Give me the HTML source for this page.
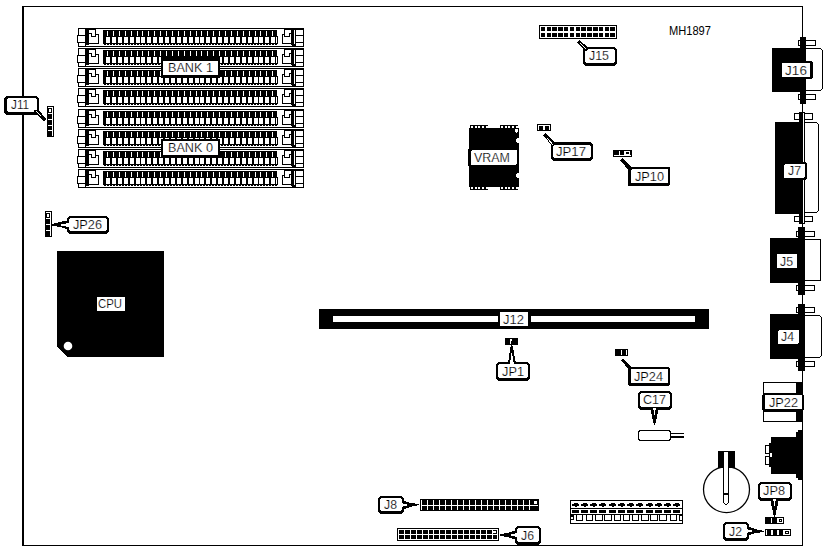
<!DOCTYPE html>
<html><head><meta charset="utf-8"><title>MH1897</title>
<style>
html,body{margin:0;padding:0;background:#fff;}
svg{display:block;}
text{font-family:"Liberation Sans",sans-serif;stroke:#fff;stroke-width:.2px;paint-order:fill stroke;}
</style></head>
<body>
<svg width="826" height="551" viewBox="0 0 826 551" shape-rendering="crispEdges">
<rect x="0" y="0" width="826" height="551" fill="#fff"/>
<rect x="22" y="6" width="2" height="540" fill="#000"/><rect x="22" y="6" width="781" height="1" fill="#000"/><rect x="22" y="545" width="781" height="1" fill="#000"/><rect x="802" y="6" width="1" height="540" fill="#000"/><rect x="78" y="28" width="226" height="19" fill="#000"/><rect x="79" y="29" width="224" height="17" fill="#fff"/><rect x="78" y="35" width="8" height="1" fill="#000"/><rect x="78" y="42" width="8" height="1" fill="#000"/><rect x="77" y="35" width="1" height="8" fill="#000"/><rect x="78" y="36" width="1" height="6" fill="#fff"/><rect x="85" y="28" width="4" height="17" fill="#000"/><rect x="85" y="28" width="1" height="19" fill="#000"/><rect x="86" y="44" width="3" height="1" fill="#000"/><rect x="85" y="29" width="11" height="1" fill="#000"/><rect x="95" y="29" width="1" height="8" fill="#000"/><rect x="95" y="34" width="4" height="1" fill="#000"/><rect x="98" y="34" width="1" height="10" fill="#000"/><rect x="89" y="43" width="10" height="1" fill="#000"/><rect x="89" y="33" width="3" height="1" fill="#000"/><rect x="91" y="33" width="1" height="4" fill="#000"/><rect x="91" y="36" width="5" height="1" fill="#000"/><rect x="103" y="30" width="174" height="14" fill="#000"/><rect x="277" y="36" width="1" height="8" fill="#000"/><rect x="104" y="44" width="2" height="1" fill="#000"/><rect x="107" y="44" width="2" height="1" fill="#000"/><rect x="110" y="44" width="2" height="1" fill="#000"/><rect x="113" y="44" width="2" height="1" fill="#000"/><rect x="116" y="44" width="2" height="1" fill="#000"/><rect x="119" y="44" width="2" height="1" fill="#000"/><rect x="122" y="44" width="2" height="1" fill="#000"/><rect x="125" y="44" width="2" height="1" fill="#000"/><rect x="128" y="44" width="2" height="1" fill="#000"/><rect x="131" y="44" width="2" height="1" fill="#000"/><rect x="134" y="44" width="2" height="1" fill="#000"/><rect x="137" y="44" width="2" height="1" fill="#000"/><rect x="140" y="44" width="2" height="1" fill="#000"/><rect x="143" y="44" width="2" height="1" fill="#000"/><rect x="146" y="44" width="2" height="1" fill="#000"/><rect x="149" y="44" width="2" height="1" fill="#000"/><rect x="152" y="44" width="2" height="1" fill="#000"/><rect x="155" y="44" width="2" height="1" fill="#000"/><rect x="158" y="44" width="2" height="1" fill="#000"/><rect x="161" y="44" width="2" height="1" fill="#000"/><rect x="164" y="44" width="2" height="1" fill="#000"/><rect x="167" y="44" width="2" height="1" fill="#000"/><rect x="170" y="44" width="2" height="1" fill="#000"/><rect x="173" y="44" width="2" height="1" fill="#000"/><rect x="176" y="44" width="2" height="1" fill="#000"/><rect x="179" y="44" width="2" height="1" fill="#000"/><rect x="182" y="44" width="2" height="1" fill="#000"/><rect x="185" y="44" width="2" height="1" fill="#000"/><rect x="188" y="44" width="2" height="1" fill="#000"/><rect x="191" y="44" width="2" height="1" fill="#000"/><rect x="194" y="44" width="2" height="1" fill="#000"/><rect x="197" y="44" width="2" height="1" fill="#000"/><rect x="200" y="44" width="2" height="1" fill="#000"/><rect x="203" y="44" width="2" height="1" fill="#000"/><rect x="206" y="44" width="2" height="1" fill="#000"/><rect x="209" y="44" width="2" height="1" fill="#000"/><rect x="212" y="44" width="2" height="1" fill="#000"/><rect x="215" y="44" width="2" height="1" fill="#000"/><rect x="218" y="44" width="2" height="1" fill="#000"/><rect x="221" y="44" width="2" height="1" fill="#000"/><rect x="224" y="44" width="2" height="1" fill="#000"/><rect x="227" y="44" width="2" height="1" fill="#000"/><rect x="230" y="44" width="2" height="1" fill="#000"/><rect x="233" y="44" width="2" height="1" fill="#000"/><rect x="236" y="44" width="2" height="1" fill="#000"/><rect x="239" y="44" width="2" height="1" fill="#000"/><rect x="242" y="44" width="2" height="1" fill="#000"/><rect x="245" y="44" width="2" height="1" fill="#000"/><rect x="248" y="44" width="2" height="1" fill="#000"/><rect x="251" y="44" width="2" height="1" fill="#000"/><rect x="254" y="44" width="2" height="1" fill="#000"/><rect x="257" y="44" width="2" height="1" fill="#000"/><rect x="260" y="44" width="2" height="1" fill="#000"/><rect x="263" y="44" width="2" height="1" fill="#000"/><rect x="266" y="44" width="2" height="1" fill="#000"/><rect x="269" y="44" width="2" height="1" fill="#000"/><rect x="272" y="44" width="2" height="1" fill="#000"/><rect x="275" y="44" width="2" height="1" fill="#000"/><rect x="106" y="37" width="4" height="6" fill="#fff"/><rect x="107" y="31" width="1" height="5" fill="#fff"/><rect x="112" y="37" width="4" height="6" fill="#fff"/><rect x="113" y="31" width="1" height="5" fill="#fff"/><rect x="118" y="37" width="4" height="6" fill="#fff"/><rect x="119" y="31" width="1" height="5" fill="#fff"/><rect x="124" y="37" width="4" height="6" fill="#fff"/><rect x="125" y="31" width="1" height="5" fill="#fff"/><rect x="130" y="37" width="4" height="6" fill="#fff"/><rect x="131" y="31" width="1" height="5" fill="#fff"/><rect x="136" y="37" width="4" height="6" fill="#fff"/><rect x="137" y="31" width="1" height="5" fill="#fff"/><rect x="141" y="37" width="4" height="6" fill="#fff"/><rect x="142" y="31" width="1" height="5" fill="#fff"/><rect x="147" y="37" width="4" height="6" fill="#fff"/><rect x="148" y="31" width="1" height="5" fill="#fff"/><rect x="153" y="37" width="4" height="6" fill="#fff"/><rect x="154" y="31" width="1" height="5" fill="#fff"/><rect x="159" y="37" width="4" height="6" fill="#fff"/><rect x="160" y="31" width="1" height="5" fill="#fff"/><rect x="165" y="37" width="4" height="6" fill="#fff"/><rect x="166" y="31" width="1" height="5" fill="#fff"/><rect x="171" y="37" width="4" height="6" fill="#fff"/><rect x="172" y="31" width="1" height="5" fill="#fff"/><rect x="177" y="37" width="4" height="6" fill="#fff"/><rect x="178" y="31" width="1" height="5" fill="#fff"/><rect x="183" y="37" width="4" height="6" fill="#fff"/><rect x="184" y="31" width="1" height="5" fill="#fff"/><rect x="189" y="37" width="4" height="6" fill="#fff"/><rect x="190" y="31" width="1" height="5" fill="#fff"/><rect x="195" y="37" width="4" height="6" fill="#fff"/><rect x="196" y="31" width="1" height="5" fill="#fff"/><rect x="200" y="37" width="4" height="6" fill="#fff"/><rect x="201" y="31" width="1" height="5" fill="#fff"/><rect x="206" y="37" width="4" height="6" fill="#fff"/><rect x="207" y="31" width="1" height="5" fill="#fff"/><rect x="212" y="37" width="4" height="6" fill="#fff"/><rect x="213" y="31" width="1" height="5" fill="#fff"/><rect x="218" y="37" width="4" height="6" fill="#fff"/><rect x="219" y="31" width="1" height="5" fill="#fff"/><rect x="224" y="37" width="4" height="6" fill="#fff"/><rect x="225" y="31" width="1" height="5" fill="#fff"/><rect x="230" y="37" width="4" height="6" fill="#fff"/><rect x="231" y="31" width="1" height="5" fill="#fff"/><rect x="236" y="37" width="4" height="6" fill="#fff"/><rect x="237" y="31" width="1" height="5" fill="#fff"/><rect x="242" y="37" width="4" height="6" fill="#fff"/><rect x="243" y="31" width="1" height="5" fill="#fff"/><rect x="248" y="37" width="4" height="6" fill="#fff"/><rect x="249" y="31" width="1" height="5" fill="#fff"/><rect x="254" y="37" width="4" height="6" fill="#fff"/><rect x="255" y="31" width="1" height="5" fill="#fff"/><rect x="259" y="37" width="4" height="6" fill="#fff"/><rect x="260" y="31" width="1" height="5" fill="#fff"/><rect x="265" y="37" width="4" height="6" fill="#fff"/><rect x="266" y="31" width="1" height="5" fill="#fff"/><rect x="271" y="37" width="4" height="6" fill="#fff"/><rect x="272" y="31" width="1" height="5" fill="#fff"/><rect x="276" y="37" width="1" height="6" fill="#fff"/><rect x="284" y="29" width="20" height="1" fill="#000"/><rect x="284" y="29" width="1" height="8" fill="#000"/><rect x="282" y="34" width="3" height="1" fill="#000"/><rect x="282" y="34" width="1" height="10" fill="#000"/><rect x="282" y="43" width="10" height="1" fill="#000"/><rect x="284" y="36" width="6" height="1" fill="#000"/><rect x="289" y="33" width="1" height="4" fill="#000"/><rect x="289" y="33" width="4" height="1" fill="#000"/><rect x="291" y="30" width="3" height="15" fill="#000"/><rect x="292" y="44" width="3" height="2" fill="#000"/><rect x="295" y="28" width="1" height="19" fill="#000"/><rect x="295" y="35" width="9" height="1" fill="#000"/><rect x="295" y="42" width="9" height="1" fill="#000"/><rect x="78" y="48" width="226" height="19" fill="#000"/><rect x="79" y="49" width="224" height="17" fill="#fff"/><rect x="78" y="55" width="8" height="1" fill="#000"/><rect x="78" y="62" width="8" height="1" fill="#000"/><rect x="77" y="55" width="1" height="8" fill="#000"/><rect x="78" y="56" width="1" height="6" fill="#fff"/><rect x="85" y="48" width="4" height="17" fill="#000"/><rect x="85" y="48" width="1" height="19" fill="#000"/><rect x="86" y="64" width="3" height="1" fill="#000"/><rect x="85" y="49" width="11" height="1" fill="#000"/><rect x="95" y="49" width="1" height="8" fill="#000"/><rect x="95" y="54" width="4" height="1" fill="#000"/><rect x="98" y="54" width="1" height="10" fill="#000"/><rect x="89" y="63" width="10" height="1" fill="#000"/><rect x="89" y="53" width="3" height="1" fill="#000"/><rect x="91" y="53" width="1" height="4" fill="#000"/><rect x="91" y="56" width="5" height="1" fill="#000"/><rect x="103" y="50" width="174" height="14" fill="#000"/><rect x="277" y="56" width="1" height="8" fill="#000"/><rect x="104" y="64" width="2" height="1" fill="#000"/><rect x="107" y="64" width="2" height="1" fill="#000"/><rect x="110" y="64" width="2" height="1" fill="#000"/><rect x="113" y="64" width="2" height="1" fill="#000"/><rect x="116" y="64" width="2" height="1" fill="#000"/><rect x="119" y="64" width="2" height="1" fill="#000"/><rect x="122" y="64" width="2" height="1" fill="#000"/><rect x="125" y="64" width="2" height="1" fill="#000"/><rect x="128" y="64" width="2" height="1" fill="#000"/><rect x="131" y="64" width="2" height="1" fill="#000"/><rect x="134" y="64" width="2" height="1" fill="#000"/><rect x="137" y="64" width="2" height="1" fill="#000"/><rect x="140" y="64" width="2" height="1" fill="#000"/><rect x="143" y="64" width="2" height="1" fill="#000"/><rect x="146" y="64" width="2" height="1" fill="#000"/><rect x="149" y="64" width="2" height="1" fill="#000"/><rect x="152" y="64" width="2" height="1" fill="#000"/><rect x="155" y="64" width="2" height="1" fill="#000"/><rect x="158" y="64" width="2" height="1" fill="#000"/><rect x="161" y="64" width="2" height="1" fill="#000"/><rect x="164" y="64" width="2" height="1" fill="#000"/><rect x="167" y="64" width="2" height="1" fill="#000"/><rect x="170" y="64" width="2" height="1" fill="#000"/><rect x="173" y="64" width="2" height="1" fill="#000"/><rect x="176" y="64" width="2" height="1" fill="#000"/><rect x="179" y="64" width="2" height="1" fill="#000"/><rect x="182" y="64" width="2" height="1" fill="#000"/><rect x="185" y="64" width="2" height="1" fill="#000"/><rect x="188" y="64" width="2" height="1" fill="#000"/><rect x="191" y="64" width="2" height="1" fill="#000"/><rect x="194" y="64" width="2" height="1" fill="#000"/><rect x="197" y="64" width="2" height="1" fill="#000"/><rect x="200" y="64" width="2" height="1" fill="#000"/><rect x="203" y="64" width="2" height="1" fill="#000"/><rect x="206" y="64" width="2" height="1" fill="#000"/><rect x="209" y="64" width="2" height="1" fill="#000"/><rect x="212" y="64" width="2" height="1" fill="#000"/><rect x="215" y="64" width="2" height="1" fill="#000"/><rect x="218" y="64" width="2" height="1" fill="#000"/><rect x="221" y="64" width="2" height="1" fill="#000"/><rect x="224" y="64" width="2" height="1" fill="#000"/><rect x="227" y="64" width="2" height="1" fill="#000"/><rect x="230" y="64" width="2" height="1" fill="#000"/><rect x="233" y="64" width="2" height="1" fill="#000"/><rect x="236" y="64" width="2" height="1" fill="#000"/><rect x="239" y="64" width="2" height="1" fill="#000"/><rect x="242" y="64" width="2" height="1" fill="#000"/><rect x="245" y="64" width="2" height="1" fill="#000"/><rect x="248" y="64" width="2" height="1" fill="#000"/><rect x="251" y="64" width="2" height="1" fill="#000"/><rect x="254" y="64" width="2" height="1" fill="#000"/><rect x="257" y="64" width="2" height="1" fill="#000"/><rect x="260" y="64" width="2" height="1" fill="#000"/><rect x="263" y="64" width="2" height="1" fill="#000"/><rect x="266" y="64" width="2" height="1" fill="#000"/><rect x="269" y="64" width="2" height="1" fill="#000"/><rect x="272" y="64" width="2" height="1" fill="#000"/><rect x="275" y="64" width="2" height="1" fill="#000"/><rect x="106" y="57" width="4" height="6" fill="#fff"/><rect x="107" y="51" width="1" height="5" fill="#fff"/><rect x="112" y="57" width="4" height="6" fill="#fff"/><rect x="113" y="51" width="1" height="5" fill="#fff"/><rect x="118" y="57" width="4" height="6" fill="#fff"/><rect x="119" y="51" width="1" height="5" fill="#fff"/><rect x="124" y="57" width="4" height="6" fill="#fff"/><rect x="125" y="51" width="1" height="5" fill="#fff"/><rect x="130" y="57" width="4" height="6" fill="#fff"/><rect x="131" y="51" width="1" height="5" fill="#fff"/><rect x="136" y="57" width="4" height="6" fill="#fff"/><rect x="137" y="51" width="1" height="5" fill="#fff"/><rect x="141" y="57" width="4" height="6" fill="#fff"/><rect x="142" y="51" width="1" height="5" fill="#fff"/><rect x="147" y="57" width="4" height="6" fill="#fff"/><rect x="148" y="51" width="1" height="5" fill="#fff"/><rect x="153" y="57" width="4" height="6" fill="#fff"/><rect x="154" y="51" width="1" height="5" fill="#fff"/><rect x="159" y="57" width="4" height="6" fill="#fff"/><rect x="160" y="51" width="1" height="5" fill="#fff"/><rect x="165" y="57" width="4" height="6" fill="#fff"/><rect x="166" y="51" width="1" height="5" fill="#fff"/><rect x="171" y="57" width="4" height="6" fill="#fff"/><rect x="172" y="51" width="1" height="5" fill="#fff"/><rect x="177" y="57" width="4" height="6" fill="#fff"/><rect x="178" y="51" width="1" height="5" fill="#fff"/><rect x="183" y="57" width="4" height="6" fill="#fff"/><rect x="184" y="51" width="1" height="5" fill="#fff"/><rect x="189" y="57" width="4" height="6" fill="#fff"/><rect x="190" y="51" width="1" height="5" fill="#fff"/><rect x="195" y="57" width="4" height="6" fill="#fff"/><rect x="196" y="51" width="1" height="5" fill="#fff"/><rect x="200" y="57" width="4" height="6" fill="#fff"/><rect x="201" y="51" width="1" height="5" fill="#fff"/><rect x="206" y="57" width="4" height="6" fill="#fff"/><rect x="207" y="51" width="1" height="5" fill="#fff"/><rect x="212" y="57" width="4" height="6" fill="#fff"/><rect x="213" y="51" width="1" height="5" fill="#fff"/><rect x="218" y="57" width="4" height="6" fill="#fff"/><rect x="219" y="51" width="1" height="5" fill="#fff"/><rect x="224" y="57" width="4" height="6" fill="#fff"/><rect x="225" y="51" width="1" height="5" fill="#fff"/><rect x="230" y="57" width="4" height="6" fill="#fff"/><rect x="231" y="51" width="1" height="5" fill="#fff"/><rect x="236" y="57" width="4" height="6" fill="#fff"/><rect x="237" y="51" width="1" height="5" fill="#fff"/><rect x="242" y="57" width="4" height="6" fill="#fff"/><rect x="243" y="51" width="1" height="5" fill="#fff"/><rect x="248" y="57" width="4" height="6" fill="#fff"/><rect x="249" y="51" width="1" height="5" fill="#fff"/><rect x="254" y="57" width="4" height="6" fill="#fff"/><rect x="255" y="51" width="1" height="5" fill="#fff"/><rect x="259" y="57" width="4" height="6" fill="#fff"/><rect x="260" y="51" width="1" height="5" fill="#fff"/><rect x="265" y="57" width="4" height="6" fill="#fff"/><rect x="266" y="51" width="1" height="5" fill="#fff"/><rect x="271" y="57" width="4" height="6" fill="#fff"/><rect x="272" y="51" width="1" height="5" fill="#fff"/><rect x="276" y="57" width="1" height="6" fill="#fff"/><rect x="284" y="49" width="20" height="1" fill="#000"/><rect x="284" y="49" width="1" height="8" fill="#000"/><rect x="282" y="54" width="3" height="1" fill="#000"/><rect x="282" y="54" width="1" height="10" fill="#000"/><rect x="282" y="63" width="10" height="1" fill="#000"/><rect x="284" y="56" width="6" height="1" fill="#000"/><rect x="289" y="53" width="1" height="4" fill="#000"/><rect x="289" y="53" width="4" height="1" fill="#000"/><rect x="291" y="50" width="3" height="15" fill="#000"/><rect x="292" y="64" width="3" height="2" fill="#000"/><rect x="295" y="48" width="1" height="19" fill="#000"/><rect x="295" y="55" width="9" height="1" fill="#000"/><rect x="295" y="62" width="9" height="1" fill="#000"/><rect x="78" y="68" width="226" height="19" fill="#000"/><rect x="79" y="69" width="224" height="17" fill="#fff"/><rect x="78" y="75" width="8" height="1" fill="#000"/><rect x="78" y="82" width="8" height="1" fill="#000"/><rect x="77" y="75" width="1" height="8" fill="#000"/><rect x="78" y="76" width="1" height="6" fill="#fff"/><rect x="85" y="68" width="4" height="17" fill="#000"/><rect x="85" y="68" width="1" height="19" fill="#000"/><rect x="86" y="84" width="3" height="1" fill="#000"/><rect x="85" y="69" width="11" height="1" fill="#000"/><rect x="95" y="69" width="1" height="8" fill="#000"/><rect x="95" y="74" width="4" height="1" fill="#000"/><rect x="98" y="74" width="1" height="10" fill="#000"/><rect x="89" y="83" width="10" height="1" fill="#000"/><rect x="89" y="73" width="3" height="1" fill="#000"/><rect x="91" y="73" width="1" height="4" fill="#000"/><rect x="91" y="76" width="5" height="1" fill="#000"/><rect x="103" y="70" width="174" height="14" fill="#000"/><rect x="277" y="76" width="1" height="8" fill="#000"/><rect x="104" y="84" width="2" height="1" fill="#000"/><rect x="107" y="84" width="2" height="1" fill="#000"/><rect x="110" y="84" width="2" height="1" fill="#000"/><rect x="113" y="84" width="2" height="1" fill="#000"/><rect x="116" y="84" width="2" height="1" fill="#000"/><rect x="119" y="84" width="2" height="1" fill="#000"/><rect x="122" y="84" width="2" height="1" fill="#000"/><rect x="125" y="84" width="2" height="1" fill="#000"/><rect x="128" y="84" width="2" height="1" fill="#000"/><rect x="131" y="84" width="2" height="1" fill="#000"/><rect x="134" y="84" width="2" height="1" fill="#000"/><rect x="137" y="84" width="2" height="1" fill="#000"/><rect x="140" y="84" width="2" height="1" fill="#000"/><rect x="143" y="84" width="2" height="1" fill="#000"/><rect x="146" y="84" width="2" height="1" fill="#000"/><rect x="149" y="84" width="2" height="1" fill="#000"/><rect x="152" y="84" width="2" height="1" fill="#000"/><rect x="155" y="84" width="2" height="1" fill="#000"/><rect x="158" y="84" width="2" height="1" fill="#000"/><rect x="161" y="84" width="2" height="1" fill="#000"/><rect x="164" y="84" width="2" height="1" fill="#000"/><rect x="167" y="84" width="2" height="1" fill="#000"/><rect x="170" y="84" width="2" height="1" fill="#000"/><rect x="173" y="84" width="2" height="1" fill="#000"/><rect x="176" y="84" width="2" height="1" fill="#000"/><rect x="179" y="84" width="2" height="1" fill="#000"/><rect x="182" y="84" width="2" height="1" fill="#000"/><rect x="185" y="84" width="2" height="1" fill="#000"/><rect x="188" y="84" width="2" height="1" fill="#000"/><rect x="191" y="84" width="2" height="1" fill="#000"/><rect x="194" y="84" width="2" height="1" fill="#000"/><rect x="197" y="84" width="2" height="1" fill="#000"/><rect x="200" y="84" width="2" height="1" fill="#000"/><rect x="203" y="84" width="2" height="1" fill="#000"/><rect x="206" y="84" width="2" height="1" fill="#000"/><rect x="209" y="84" width="2" height="1" fill="#000"/><rect x="212" y="84" width="2" height="1" fill="#000"/><rect x="215" y="84" width="2" height="1" fill="#000"/><rect x="218" y="84" width="2" height="1" fill="#000"/><rect x="221" y="84" width="2" height="1" fill="#000"/><rect x="224" y="84" width="2" height="1" fill="#000"/><rect x="227" y="84" width="2" height="1" fill="#000"/><rect x="230" y="84" width="2" height="1" fill="#000"/><rect x="233" y="84" width="2" height="1" fill="#000"/><rect x="236" y="84" width="2" height="1" fill="#000"/><rect x="239" y="84" width="2" height="1" fill="#000"/><rect x="242" y="84" width="2" height="1" fill="#000"/><rect x="245" y="84" width="2" height="1" fill="#000"/><rect x="248" y="84" width="2" height="1" fill="#000"/><rect x="251" y="84" width="2" height="1" fill="#000"/><rect x="254" y="84" width="2" height="1" fill="#000"/><rect x="257" y="84" width="2" height="1" fill="#000"/><rect x="260" y="84" width="2" height="1" fill="#000"/><rect x="263" y="84" width="2" height="1" fill="#000"/><rect x="266" y="84" width="2" height="1" fill="#000"/><rect x="269" y="84" width="2" height="1" fill="#000"/><rect x="272" y="84" width="2" height="1" fill="#000"/><rect x="275" y="84" width="2" height="1" fill="#000"/><rect x="106" y="77" width="4" height="6" fill="#fff"/><rect x="107" y="71" width="1" height="5" fill="#fff"/><rect x="112" y="77" width="4" height="6" fill="#fff"/><rect x="113" y="71" width="1" height="5" fill="#fff"/><rect x="118" y="77" width="4" height="6" fill="#fff"/><rect x="119" y="71" width="1" height="5" fill="#fff"/><rect x="124" y="77" width="4" height="6" fill="#fff"/><rect x="125" y="71" width="1" height="5" fill="#fff"/><rect x="130" y="77" width="4" height="6" fill="#fff"/><rect x="131" y="71" width="1" height="5" fill="#fff"/><rect x="136" y="77" width="4" height="6" fill="#fff"/><rect x="137" y="71" width="1" height="5" fill="#fff"/><rect x="141" y="77" width="4" height="6" fill="#fff"/><rect x="142" y="71" width="1" height="5" fill="#fff"/><rect x="147" y="77" width="4" height="6" fill="#fff"/><rect x="148" y="71" width="1" height="5" fill="#fff"/><rect x="153" y="77" width="4" height="6" fill="#fff"/><rect x="154" y="71" width="1" height="5" fill="#fff"/><rect x="159" y="77" width="4" height="6" fill="#fff"/><rect x="160" y="71" width="1" height="5" fill="#fff"/><rect x="165" y="77" width="4" height="6" fill="#fff"/><rect x="166" y="71" width="1" height="5" fill="#fff"/><rect x="171" y="77" width="4" height="6" fill="#fff"/><rect x="172" y="71" width="1" height="5" fill="#fff"/><rect x="177" y="77" width="4" height="6" fill="#fff"/><rect x="178" y="71" width="1" height="5" fill="#fff"/><rect x="183" y="77" width="4" height="6" fill="#fff"/><rect x="184" y="71" width="1" height="5" fill="#fff"/><rect x="189" y="77" width="4" height="6" fill="#fff"/><rect x="190" y="71" width="1" height="5" fill="#fff"/><rect x="195" y="77" width="4" height="6" fill="#fff"/><rect x="196" y="71" width="1" height="5" fill="#fff"/><rect x="200" y="77" width="4" height="6" fill="#fff"/><rect x="201" y="71" width="1" height="5" fill="#fff"/><rect x="206" y="77" width="4" height="6" fill="#fff"/><rect x="207" y="71" width="1" height="5" fill="#fff"/><rect x="212" y="77" width="4" height="6" fill="#fff"/><rect x="213" y="71" width="1" height="5" fill="#fff"/><rect x="218" y="77" width="4" height="6" fill="#fff"/><rect x="219" y="71" width="1" height="5" fill="#fff"/><rect x="224" y="77" width="4" height="6" fill="#fff"/><rect x="225" y="71" width="1" height="5" fill="#fff"/><rect x="230" y="77" width="4" height="6" fill="#fff"/><rect x="231" y="71" width="1" height="5" fill="#fff"/><rect x="236" y="77" width="4" height="6" fill="#fff"/><rect x="237" y="71" width="1" height="5" fill="#fff"/><rect x="242" y="77" width="4" height="6" fill="#fff"/><rect x="243" y="71" width="1" height="5" fill="#fff"/><rect x="248" y="77" width="4" height="6" fill="#fff"/><rect x="249" y="71" width="1" height="5" fill="#fff"/><rect x="254" y="77" width="4" height="6" fill="#fff"/><rect x="255" y="71" width="1" height="5" fill="#fff"/><rect x="259" y="77" width="4" height="6" fill="#fff"/><rect x="260" y="71" width="1" height="5" fill="#fff"/><rect x="265" y="77" width="4" height="6" fill="#fff"/><rect x="266" y="71" width="1" height="5" fill="#fff"/><rect x="271" y="77" width="4" height="6" fill="#fff"/><rect x="272" y="71" width="1" height="5" fill="#fff"/><rect x="276" y="77" width="1" height="6" fill="#fff"/><rect x="284" y="69" width="20" height="1" fill="#000"/><rect x="284" y="69" width="1" height="8" fill="#000"/><rect x="282" y="74" width="3" height="1" fill="#000"/><rect x="282" y="74" width="1" height="10" fill="#000"/><rect x="282" y="83" width="10" height="1" fill="#000"/><rect x="284" y="76" width="6" height="1" fill="#000"/><rect x="289" y="73" width="1" height="4" fill="#000"/><rect x="289" y="73" width="4" height="1" fill="#000"/><rect x="291" y="70" width="3" height="15" fill="#000"/><rect x="292" y="84" width="3" height="2" fill="#000"/><rect x="295" y="68" width="1" height="19" fill="#000"/><rect x="295" y="75" width="9" height="1" fill="#000"/><rect x="295" y="82" width="9" height="1" fill="#000"/><rect x="78" y="88" width="226" height="19" fill="#000"/><rect x="79" y="89" width="224" height="17" fill="#fff"/><rect x="78" y="95" width="8" height="1" fill="#000"/><rect x="78" y="102" width="8" height="1" fill="#000"/><rect x="77" y="95" width="1" height="8" fill="#000"/><rect x="78" y="96" width="1" height="6" fill="#fff"/><rect x="85" y="88" width="4" height="17" fill="#000"/><rect x="85" y="88" width="1" height="19" fill="#000"/><rect x="86" y="104" width="3" height="1" fill="#000"/><rect x="85" y="89" width="11" height="1" fill="#000"/><rect x="95" y="89" width="1" height="8" fill="#000"/><rect x="95" y="94" width="4" height="1" fill="#000"/><rect x="98" y="94" width="1" height="10" fill="#000"/><rect x="89" y="103" width="10" height="1" fill="#000"/><rect x="89" y="93" width="3" height="1" fill="#000"/><rect x="91" y="93" width="1" height="4" fill="#000"/><rect x="91" y="96" width="5" height="1" fill="#000"/><rect x="103" y="90" width="174" height="14" fill="#000"/><rect x="277" y="96" width="1" height="8" fill="#000"/><rect x="104" y="104" width="2" height="1" fill="#000"/><rect x="107" y="104" width="2" height="1" fill="#000"/><rect x="110" y="104" width="2" height="1" fill="#000"/><rect x="113" y="104" width="2" height="1" fill="#000"/><rect x="116" y="104" width="2" height="1" fill="#000"/><rect x="119" y="104" width="2" height="1" fill="#000"/><rect x="122" y="104" width="2" height="1" fill="#000"/><rect x="125" y="104" width="2" height="1" fill="#000"/><rect x="128" y="104" width="2" height="1" fill="#000"/><rect x="131" y="104" width="2" height="1" fill="#000"/><rect x="134" y="104" width="2" height="1" fill="#000"/><rect x="137" y="104" width="2" height="1" fill="#000"/><rect x="140" y="104" width="2" height="1" fill="#000"/><rect x="143" y="104" width="2" height="1" fill="#000"/><rect x="146" y="104" width="2" height="1" fill="#000"/><rect x="149" y="104" width="2" height="1" fill="#000"/><rect x="152" y="104" width="2" height="1" fill="#000"/><rect x="155" y="104" width="2" height="1" fill="#000"/><rect x="158" y="104" width="2" height="1" fill="#000"/><rect x="161" y="104" width="2" height="1" fill="#000"/><rect x="164" y="104" width="2" height="1" fill="#000"/><rect x="167" y="104" width="2" height="1" fill="#000"/><rect x="170" y="104" width="2" height="1" fill="#000"/><rect x="173" y="104" width="2" height="1" fill="#000"/><rect x="176" y="104" width="2" height="1" fill="#000"/><rect x="179" y="104" width="2" height="1" fill="#000"/><rect x="182" y="104" width="2" height="1" fill="#000"/><rect x="185" y="104" width="2" height="1" fill="#000"/><rect x="188" y="104" width="2" height="1" fill="#000"/><rect x="191" y="104" width="2" height="1" fill="#000"/><rect x="194" y="104" width="2" height="1" fill="#000"/><rect x="197" y="104" width="2" height="1" fill="#000"/><rect x="200" y="104" width="2" height="1" fill="#000"/><rect x="203" y="104" width="2" height="1" fill="#000"/><rect x="206" y="104" width="2" height="1" fill="#000"/><rect x="209" y="104" width="2" height="1" fill="#000"/><rect x="212" y="104" width="2" height="1" fill="#000"/><rect x="215" y="104" width="2" height="1" fill="#000"/><rect x="218" y="104" width="2" height="1" fill="#000"/><rect x="221" y="104" width="2" height="1" fill="#000"/><rect x="224" y="104" width="2" height="1" fill="#000"/><rect x="227" y="104" width="2" height="1" fill="#000"/><rect x="230" y="104" width="2" height="1" fill="#000"/><rect x="233" y="104" width="2" height="1" fill="#000"/><rect x="236" y="104" width="2" height="1" fill="#000"/><rect x="239" y="104" width="2" height="1" fill="#000"/><rect x="242" y="104" width="2" height="1" fill="#000"/><rect x="245" y="104" width="2" height="1" fill="#000"/><rect x="248" y="104" width="2" height="1" fill="#000"/><rect x="251" y="104" width="2" height="1" fill="#000"/><rect x="254" y="104" width="2" height="1" fill="#000"/><rect x="257" y="104" width="2" height="1" fill="#000"/><rect x="260" y="104" width="2" height="1" fill="#000"/><rect x="263" y="104" width="2" height="1" fill="#000"/><rect x="266" y="104" width="2" height="1" fill="#000"/><rect x="269" y="104" width="2" height="1" fill="#000"/><rect x="272" y="104" width="2" height="1" fill="#000"/><rect x="275" y="104" width="2" height="1" fill="#000"/><rect x="106" y="97" width="4" height="6" fill="#fff"/><rect x="107" y="91" width="1" height="5" fill="#fff"/><rect x="112" y="97" width="4" height="6" fill="#fff"/><rect x="113" y="91" width="1" height="5" fill="#fff"/><rect x="118" y="97" width="4" height="6" fill="#fff"/><rect x="119" y="91" width="1" height="5" fill="#fff"/><rect x="124" y="97" width="4" height="6" fill="#fff"/><rect x="125" y="91" width="1" height="5" fill="#fff"/><rect x="130" y="97" width="4" height="6" fill="#fff"/><rect x="131" y="91" width="1" height="5" fill="#fff"/><rect x="136" y="97" width="4" height="6" fill="#fff"/><rect x="137" y="91" width="1" height="5" fill="#fff"/><rect x="141" y="97" width="4" height="6" fill="#fff"/><rect x="142" y="91" width="1" height="5" fill="#fff"/><rect x="147" y="97" width="4" height="6" fill="#fff"/><rect x="148" y="91" width="1" height="5" fill="#fff"/><rect x="153" y="97" width="4" height="6" fill="#fff"/><rect x="154" y="91" width="1" height="5" fill="#fff"/><rect x="159" y="97" width="4" height="6" fill="#fff"/><rect x="160" y="91" width="1" height="5" fill="#fff"/><rect x="165" y="97" width="4" height="6" fill="#fff"/><rect x="166" y="91" width="1" height="5" fill="#fff"/><rect x="171" y="97" width="4" height="6" fill="#fff"/><rect x="172" y="91" width="1" height="5" fill="#fff"/><rect x="177" y="97" width="4" height="6" fill="#fff"/><rect x="178" y="91" width="1" height="5" fill="#fff"/><rect x="183" y="97" width="4" height="6" fill="#fff"/><rect x="184" y="91" width="1" height="5" fill="#fff"/><rect x="189" y="97" width="4" height="6" fill="#fff"/><rect x="190" y="91" width="1" height="5" fill="#fff"/><rect x="195" y="97" width="4" height="6" fill="#fff"/><rect x="196" y="91" width="1" height="5" fill="#fff"/><rect x="200" y="97" width="4" height="6" fill="#fff"/><rect x="201" y="91" width="1" height="5" fill="#fff"/><rect x="206" y="97" width="4" height="6" fill="#fff"/><rect x="207" y="91" width="1" height="5" fill="#fff"/><rect x="212" y="97" width="4" height="6" fill="#fff"/><rect x="213" y="91" width="1" height="5" fill="#fff"/><rect x="218" y="97" width="4" height="6" fill="#fff"/><rect x="219" y="91" width="1" height="5" fill="#fff"/><rect x="224" y="97" width="4" height="6" fill="#fff"/><rect x="225" y="91" width="1" height="5" fill="#fff"/><rect x="230" y="97" width="4" height="6" fill="#fff"/><rect x="231" y="91" width="1" height="5" fill="#fff"/><rect x="236" y="97" width="4" height="6" fill="#fff"/><rect x="237" y="91" width="1" height="5" fill="#fff"/><rect x="242" y="97" width="4" height="6" fill="#fff"/><rect x="243" y="91" width="1" height="5" fill="#fff"/><rect x="248" y="97" width="4" height="6" fill="#fff"/><rect x="249" y="91" width="1" height="5" fill="#fff"/><rect x="254" y="97" width="4" height="6" fill="#fff"/><rect x="255" y="91" width="1" height="5" fill="#fff"/><rect x="259" y="97" width="4" height="6" fill="#fff"/><rect x="260" y="91" width="1" height="5" fill="#fff"/><rect x="265" y="97" width="4" height="6" fill="#fff"/><rect x="266" y="91" width="1" height="5" fill="#fff"/><rect x="271" y="97" width="4" height="6" fill="#fff"/><rect x="272" y="91" width="1" height="5" fill="#fff"/><rect x="276" y="97" width="1" height="6" fill="#fff"/><rect x="284" y="89" width="20" height="1" fill="#000"/><rect x="284" y="89" width="1" height="8" fill="#000"/><rect x="282" y="94" width="3" height="1" fill="#000"/><rect x="282" y="94" width="1" height="10" fill="#000"/><rect x="282" y="103" width="10" height="1" fill="#000"/><rect x="284" y="96" width="6" height="1" fill="#000"/><rect x="289" y="93" width="1" height="4" fill="#000"/><rect x="289" y="93" width="4" height="1" fill="#000"/><rect x="291" y="90" width="3" height="15" fill="#000"/><rect x="292" y="104" width="3" height="2" fill="#000"/><rect x="295" y="88" width="1" height="19" fill="#000"/><rect x="295" y="95" width="9" height="1" fill="#000"/><rect x="295" y="102" width="9" height="1" fill="#000"/><rect x="78" y="109" width="226" height="19" fill="#000"/><rect x="79" y="110" width="224" height="17" fill="#fff"/><rect x="78" y="116" width="8" height="1" fill="#000"/><rect x="78" y="123" width="8" height="1" fill="#000"/><rect x="77" y="116" width="1" height="8" fill="#000"/><rect x="78" y="117" width="1" height="6" fill="#fff"/><rect x="85" y="109" width="4" height="17" fill="#000"/><rect x="85" y="109" width="1" height="19" fill="#000"/><rect x="86" y="125" width="3" height="1" fill="#000"/><rect x="85" y="110" width="11" height="1" fill="#000"/><rect x="95" y="110" width="1" height="8" fill="#000"/><rect x="95" y="115" width="4" height="1" fill="#000"/><rect x="98" y="115" width="1" height="10" fill="#000"/><rect x="89" y="124" width="10" height="1" fill="#000"/><rect x="89" y="114" width="3" height="1" fill="#000"/><rect x="91" y="114" width="1" height="4" fill="#000"/><rect x="91" y="117" width="5" height="1" fill="#000"/><rect x="103" y="111" width="174" height="14" fill="#000"/><rect x="277" y="117" width="1" height="8" fill="#000"/><rect x="104" y="125" width="2" height="1" fill="#000"/><rect x="107" y="125" width="2" height="1" fill="#000"/><rect x="110" y="125" width="2" height="1" fill="#000"/><rect x="113" y="125" width="2" height="1" fill="#000"/><rect x="116" y="125" width="2" height="1" fill="#000"/><rect x="119" y="125" width="2" height="1" fill="#000"/><rect x="122" y="125" width="2" height="1" fill="#000"/><rect x="125" y="125" width="2" height="1" fill="#000"/><rect x="128" y="125" width="2" height="1" fill="#000"/><rect x="131" y="125" width="2" height="1" fill="#000"/><rect x="134" y="125" width="2" height="1" fill="#000"/><rect x="137" y="125" width="2" height="1" fill="#000"/><rect x="140" y="125" width="2" height="1" fill="#000"/><rect x="143" y="125" width="2" height="1" fill="#000"/><rect x="146" y="125" width="2" height="1" fill="#000"/><rect x="149" y="125" width="2" height="1" fill="#000"/><rect x="152" y="125" width="2" height="1" fill="#000"/><rect x="155" y="125" width="2" height="1" fill="#000"/><rect x="158" y="125" width="2" height="1" fill="#000"/><rect x="161" y="125" width="2" height="1" fill="#000"/><rect x="164" y="125" width="2" height="1" fill="#000"/><rect x="167" y="125" width="2" height="1" fill="#000"/><rect x="170" y="125" width="2" height="1" fill="#000"/><rect x="173" y="125" width="2" height="1" fill="#000"/><rect x="176" y="125" width="2" height="1" fill="#000"/><rect x="179" y="125" width="2" height="1" fill="#000"/><rect x="182" y="125" width="2" height="1" fill="#000"/><rect x="185" y="125" width="2" height="1" fill="#000"/><rect x="188" y="125" width="2" height="1" fill="#000"/><rect x="191" y="125" width="2" height="1" fill="#000"/><rect x="194" y="125" width="2" height="1" fill="#000"/><rect x="197" y="125" width="2" height="1" fill="#000"/><rect x="200" y="125" width="2" height="1" fill="#000"/><rect x="203" y="125" width="2" height="1" fill="#000"/><rect x="206" y="125" width="2" height="1" fill="#000"/><rect x="209" y="125" width="2" height="1" fill="#000"/><rect x="212" y="125" width="2" height="1" fill="#000"/><rect x="215" y="125" width="2" height="1" fill="#000"/><rect x="218" y="125" width="2" height="1" fill="#000"/><rect x="221" y="125" width="2" height="1" fill="#000"/><rect x="224" y="125" width="2" height="1" fill="#000"/><rect x="227" y="125" width="2" height="1" fill="#000"/><rect x="230" y="125" width="2" height="1" fill="#000"/><rect x="233" y="125" width="2" height="1" fill="#000"/><rect x="236" y="125" width="2" height="1" fill="#000"/><rect x="239" y="125" width="2" height="1" fill="#000"/><rect x="242" y="125" width="2" height="1" fill="#000"/><rect x="245" y="125" width="2" height="1" fill="#000"/><rect x="248" y="125" width="2" height="1" fill="#000"/><rect x="251" y="125" width="2" height="1" fill="#000"/><rect x="254" y="125" width="2" height="1" fill="#000"/><rect x="257" y="125" width="2" height="1" fill="#000"/><rect x="260" y="125" width="2" height="1" fill="#000"/><rect x="263" y="125" width="2" height="1" fill="#000"/><rect x="266" y="125" width="2" height="1" fill="#000"/><rect x="269" y="125" width="2" height="1" fill="#000"/><rect x="272" y="125" width="2" height="1" fill="#000"/><rect x="275" y="125" width="2" height="1" fill="#000"/><rect x="106" y="118" width="4" height="6" fill="#fff"/><rect x="107" y="112" width="1" height="5" fill="#fff"/><rect x="112" y="118" width="4" height="6" fill="#fff"/><rect x="113" y="112" width="1" height="5" fill="#fff"/><rect x="118" y="118" width="4" height="6" fill="#fff"/><rect x="119" y="112" width="1" height="5" fill="#fff"/><rect x="124" y="118" width="4" height="6" fill="#fff"/><rect x="125" y="112" width="1" height="5" fill="#fff"/><rect x="130" y="118" width="4" height="6" fill="#fff"/><rect x="131" y="112" width="1" height="5" fill="#fff"/><rect x="136" y="118" width="4" height="6" fill="#fff"/><rect x="137" y="112" width="1" height="5" fill="#fff"/><rect x="141" y="118" width="4" height="6" fill="#fff"/><rect x="142" y="112" width="1" height="5" fill="#fff"/><rect x="147" y="118" width="4" height="6" fill="#fff"/><rect x="148" y="112" width="1" height="5" fill="#fff"/><rect x="153" y="118" width="4" height="6" fill="#fff"/><rect x="154" y="112" width="1" height="5" fill="#fff"/><rect x="159" y="118" width="4" height="6" fill="#fff"/><rect x="160" y="112" width="1" height="5" fill="#fff"/><rect x="165" y="118" width="4" height="6" fill="#fff"/><rect x="166" y="112" width="1" height="5" fill="#fff"/><rect x="171" y="118" width="4" height="6" fill="#fff"/><rect x="172" y="112" width="1" height="5" fill="#fff"/><rect x="177" y="118" width="4" height="6" fill="#fff"/><rect x="178" y="112" width="1" height="5" fill="#fff"/><rect x="183" y="118" width="4" height="6" fill="#fff"/><rect x="184" y="112" width="1" height="5" fill="#fff"/><rect x="189" y="118" width="4" height="6" fill="#fff"/><rect x="190" y="112" width="1" height="5" fill="#fff"/><rect x="195" y="118" width="4" height="6" fill="#fff"/><rect x="196" y="112" width="1" height="5" fill="#fff"/><rect x="200" y="118" width="4" height="6" fill="#fff"/><rect x="201" y="112" width="1" height="5" fill="#fff"/><rect x="206" y="118" width="4" height="6" fill="#fff"/><rect x="207" y="112" width="1" height="5" fill="#fff"/><rect x="212" y="118" width="4" height="6" fill="#fff"/><rect x="213" y="112" width="1" height="5" fill="#fff"/><rect x="218" y="118" width="4" height="6" fill="#fff"/><rect x="219" y="112" width="1" height="5" fill="#fff"/><rect x="224" y="118" width="4" height="6" fill="#fff"/><rect x="225" y="112" width="1" height="5" fill="#fff"/><rect x="230" y="118" width="4" height="6" fill="#fff"/><rect x="231" y="112" width="1" height="5" fill="#fff"/><rect x="236" y="118" width="4" height="6" fill="#fff"/><rect x="237" y="112" width="1" height="5" fill="#fff"/><rect x="242" y="118" width="4" height="6" fill="#fff"/><rect x="243" y="112" width="1" height="5" fill="#fff"/><rect x="248" y="118" width="4" height="6" fill="#fff"/><rect x="249" y="112" width="1" height="5" fill="#fff"/><rect x="254" y="118" width="4" height="6" fill="#fff"/><rect x="255" y="112" width="1" height="5" fill="#fff"/><rect x="259" y="118" width="4" height="6" fill="#fff"/><rect x="260" y="112" width="1" height="5" fill="#fff"/><rect x="265" y="118" width="4" height="6" fill="#fff"/><rect x="266" y="112" width="1" height="5" fill="#fff"/><rect x="271" y="118" width="4" height="6" fill="#fff"/><rect x="272" y="112" width="1" height="5" fill="#fff"/><rect x="276" y="118" width="1" height="6" fill="#fff"/><rect x="284" y="110" width="20" height="1" fill="#000"/><rect x="284" y="110" width="1" height="8" fill="#000"/><rect x="282" y="115" width="3" height="1" fill="#000"/><rect x="282" y="115" width="1" height="10" fill="#000"/><rect x="282" y="124" width="10" height="1" fill="#000"/><rect x="284" y="117" width="6" height="1" fill="#000"/><rect x="289" y="114" width="1" height="4" fill="#000"/><rect x="289" y="114" width="4" height="1" fill="#000"/><rect x="291" y="111" width="3" height="15" fill="#000"/><rect x="292" y="125" width="3" height="2" fill="#000"/><rect x="295" y="109" width="1" height="19" fill="#000"/><rect x="295" y="116" width="9" height="1" fill="#000"/><rect x="295" y="123" width="9" height="1" fill="#000"/><rect x="78" y="129" width="226" height="19" fill="#000"/><rect x="79" y="130" width="224" height="17" fill="#fff"/><rect x="78" y="136" width="8" height="1" fill="#000"/><rect x="78" y="143" width="8" height="1" fill="#000"/><rect x="77" y="136" width="1" height="8" fill="#000"/><rect x="78" y="137" width="1" height="6" fill="#fff"/><rect x="85" y="129" width="4" height="17" fill="#000"/><rect x="85" y="129" width="1" height="19" fill="#000"/><rect x="86" y="145" width="3" height="1" fill="#000"/><rect x="85" y="130" width="11" height="1" fill="#000"/><rect x="95" y="130" width="1" height="8" fill="#000"/><rect x="95" y="135" width="4" height="1" fill="#000"/><rect x="98" y="135" width="1" height="10" fill="#000"/><rect x="89" y="144" width="10" height="1" fill="#000"/><rect x="89" y="134" width="3" height="1" fill="#000"/><rect x="91" y="134" width="1" height="4" fill="#000"/><rect x="91" y="137" width="5" height="1" fill="#000"/><rect x="103" y="131" width="174" height="14" fill="#000"/><rect x="277" y="137" width="1" height="8" fill="#000"/><rect x="104" y="145" width="2" height="1" fill="#000"/><rect x="107" y="145" width="2" height="1" fill="#000"/><rect x="110" y="145" width="2" height="1" fill="#000"/><rect x="113" y="145" width="2" height="1" fill="#000"/><rect x="116" y="145" width="2" height="1" fill="#000"/><rect x="119" y="145" width="2" height="1" fill="#000"/><rect x="122" y="145" width="2" height="1" fill="#000"/><rect x="125" y="145" width="2" height="1" fill="#000"/><rect x="128" y="145" width="2" height="1" fill="#000"/><rect x="131" y="145" width="2" height="1" fill="#000"/><rect x="134" y="145" width="2" height="1" fill="#000"/><rect x="137" y="145" width="2" height="1" fill="#000"/><rect x="140" y="145" width="2" height="1" fill="#000"/><rect x="143" y="145" width="2" height="1" fill="#000"/><rect x="146" y="145" width="2" height="1" fill="#000"/><rect x="149" y="145" width="2" height="1" fill="#000"/><rect x="152" y="145" width="2" height="1" fill="#000"/><rect x="155" y="145" width="2" height="1" fill="#000"/><rect x="158" y="145" width="2" height="1" fill="#000"/><rect x="161" y="145" width="2" height="1" fill="#000"/><rect x="164" y="145" width="2" height="1" fill="#000"/><rect x="167" y="145" width="2" height="1" fill="#000"/><rect x="170" y="145" width="2" height="1" fill="#000"/><rect x="173" y="145" width="2" height="1" fill="#000"/><rect x="176" y="145" width="2" height="1" fill="#000"/><rect x="179" y="145" width="2" height="1" fill="#000"/><rect x="182" y="145" width="2" height="1" fill="#000"/><rect x="185" y="145" width="2" height="1" fill="#000"/><rect x="188" y="145" width="2" height="1" fill="#000"/><rect x="191" y="145" width="2" height="1" fill="#000"/><rect x="194" y="145" width="2" height="1" fill="#000"/><rect x="197" y="145" width="2" height="1" fill="#000"/><rect x="200" y="145" width="2" height="1" fill="#000"/><rect x="203" y="145" width="2" height="1" fill="#000"/><rect x="206" y="145" width="2" height="1" fill="#000"/><rect x="209" y="145" width="2" height="1" fill="#000"/><rect x="212" y="145" width="2" height="1" fill="#000"/><rect x="215" y="145" width="2" height="1" fill="#000"/><rect x="218" y="145" width="2" height="1" fill="#000"/><rect x="221" y="145" width="2" height="1" fill="#000"/><rect x="224" y="145" width="2" height="1" fill="#000"/><rect x="227" y="145" width="2" height="1" fill="#000"/><rect x="230" y="145" width="2" height="1" fill="#000"/><rect x="233" y="145" width="2" height="1" fill="#000"/><rect x="236" y="145" width="2" height="1" fill="#000"/><rect x="239" y="145" width="2" height="1" fill="#000"/><rect x="242" y="145" width="2" height="1" fill="#000"/><rect x="245" y="145" width="2" height="1" fill="#000"/><rect x="248" y="145" width="2" height="1" fill="#000"/><rect x="251" y="145" width="2" height="1" fill="#000"/><rect x="254" y="145" width="2" height="1" fill="#000"/><rect x="257" y="145" width="2" height="1" fill="#000"/><rect x="260" y="145" width="2" height="1" fill="#000"/><rect x="263" y="145" width="2" height="1" fill="#000"/><rect x="266" y="145" width="2" height="1" fill="#000"/><rect x="269" y="145" width="2" height="1" fill="#000"/><rect x="272" y="145" width="2" height="1" fill="#000"/><rect x="275" y="145" width="2" height="1" fill="#000"/><rect x="106" y="138" width="4" height="6" fill="#fff"/><rect x="107" y="132" width="1" height="5" fill="#fff"/><rect x="112" y="138" width="4" height="6" fill="#fff"/><rect x="113" y="132" width="1" height="5" fill="#fff"/><rect x="118" y="138" width="4" height="6" fill="#fff"/><rect x="119" y="132" width="1" height="5" fill="#fff"/><rect x="124" y="138" width="4" height="6" fill="#fff"/><rect x="125" y="132" width="1" height="5" fill="#fff"/><rect x="130" y="138" width="4" height="6" fill="#fff"/><rect x="131" y="132" width="1" height="5" fill="#fff"/><rect x="136" y="138" width="4" height="6" fill="#fff"/><rect x="137" y="132" width="1" height="5" fill="#fff"/><rect x="141" y="138" width="4" height="6" fill="#fff"/><rect x="142" y="132" width="1" height="5" fill="#fff"/><rect x="147" y="138" width="4" height="6" fill="#fff"/><rect x="148" y="132" width="1" height="5" fill="#fff"/><rect x="153" y="138" width="4" height="6" fill="#fff"/><rect x="154" y="132" width="1" height="5" fill="#fff"/><rect x="159" y="138" width="4" height="6" fill="#fff"/><rect x="160" y="132" width="1" height="5" fill="#fff"/><rect x="165" y="138" width="4" height="6" fill="#fff"/><rect x="166" y="132" width="1" height="5" fill="#fff"/><rect x="171" y="138" width="4" height="6" fill="#fff"/><rect x="172" y="132" width="1" height="5" fill="#fff"/><rect x="177" y="138" width="4" height="6" fill="#fff"/><rect x="178" y="132" width="1" height="5" fill="#fff"/><rect x="183" y="138" width="4" height="6" fill="#fff"/><rect x="184" y="132" width="1" height="5" fill="#fff"/><rect x="189" y="138" width="4" height="6" fill="#fff"/><rect x="190" y="132" width="1" height="5" fill="#fff"/><rect x="195" y="138" width="4" height="6" fill="#fff"/><rect x="196" y="132" width="1" height="5" fill="#fff"/><rect x="200" y="138" width="4" height="6" fill="#fff"/><rect x="201" y="132" width="1" height="5" fill="#fff"/><rect x="206" y="138" width="4" height="6" fill="#fff"/><rect x="207" y="132" width="1" height="5" fill="#fff"/><rect x="212" y="138" width="4" height="6" fill="#fff"/><rect x="213" y="132" width="1" height="5" fill="#fff"/><rect x="218" y="138" width="4" height="6" fill="#fff"/><rect x="219" y="132" width="1" height="5" fill="#fff"/><rect x="224" y="138" width="4" height="6" fill="#fff"/><rect x="225" y="132" width="1" height="5" fill="#fff"/><rect x="230" y="138" width="4" height="6" fill="#fff"/><rect x="231" y="132" width="1" height="5" fill="#fff"/><rect x="236" y="138" width="4" height="6" fill="#fff"/><rect x="237" y="132" width="1" height="5" fill="#fff"/><rect x="242" y="138" width="4" height="6" fill="#fff"/><rect x="243" y="132" width="1" height="5" fill="#fff"/><rect x="248" y="138" width="4" height="6" fill="#fff"/><rect x="249" y="132" width="1" height="5" fill="#fff"/><rect x="254" y="138" width="4" height="6" fill="#fff"/><rect x="255" y="132" width="1" height="5" fill="#fff"/><rect x="259" y="138" width="4" height="6" fill="#fff"/><rect x="260" y="132" width="1" height="5" fill="#fff"/><rect x="265" y="138" width="4" height="6" fill="#fff"/><rect x="266" y="132" width="1" height="5" fill="#fff"/><rect x="271" y="138" width="4" height="6" fill="#fff"/><rect x="272" y="132" width="1" height="5" fill="#fff"/><rect x="276" y="138" width="1" height="6" fill="#fff"/><rect x="284" y="130" width="20" height="1" fill="#000"/><rect x="284" y="130" width="1" height="8" fill="#000"/><rect x="282" y="135" width="3" height="1" fill="#000"/><rect x="282" y="135" width="1" height="10" fill="#000"/><rect x="282" y="144" width="10" height="1" fill="#000"/><rect x="284" y="137" width="6" height="1" fill="#000"/><rect x="289" y="134" width="1" height="4" fill="#000"/><rect x="289" y="134" width="4" height="1" fill="#000"/><rect x="291" y="131" width="3" height="15" fill="#000"/><rect x="292" y="145" width="3" height="2" fill="#000"/><rect x="295" y="129" width="1" height="19" fill="#000"/><rect x="295" y="136" width="9" height="1" fill="#000"/><rect x="295" y="143" width="9" height="1" fill="#000"/><rect x="78" y="149" width="226" height="19" fill="#000"/><rect x="79" y="150" width="224" height="17" fill="#fff"/><rect x="78" y="156" width="8" height="1" fill="#000"/><rect x="78" y="163" width="8" height="1" fill="#000"/><rect x="77" y="156" width="1" height="8" fill="#000"/><rect x="78" y="157" width="1" height="6" fill="#fff"/><rect x="85" y="149" width="4" height="17" fill="#000"/><rect x="85" y="149" width="1" height="19" fill="#000"/><rect x="86" y="165" width="3" height="1" fill="#000"/><rect x="85" y="150" width="11" height="1" fill="#000"/><rect x="95" y="150" width="1" height="8" fill="#000"/><rect x="95" y="155" width="4" height="1" fill="#000"/><rect x="98" y="155" width="1" height="10" fill="#000"/><rect x="89" y="164" width="10" height="1" fill="#000"/><rect x="89" y="154" width="3" height="1" fill="#000"/><rect x="91" y="154" width="1" height="4" fill="#000"/><rect x="91" y="157" width="5" height="1" fill="#000"/><rect x="103" y="151" width="174" height="14" fill="#000"/><rect x="277" y="157" width="1" height="8" fill="#000"/><rect x="104" y="165" width="2" height="1" fill="#000"/><rect x="107" y="165" width="2" height="1" fill="#000"/><rect x="110" y="165" width="2" height="1" fill="#000"/><rect x="113" y="165" width="2" height="1" fill="#000"/><rect x="116" y="165" width="2" height="1" fill="#000"/><rect x="119" y="165" width="2" height="1" fill="#000"/><rect x="122" y="165" width="2" height="1" fill="#000"/><rect x="125" y="165" width="2" height="1" fill="#000"/><rect x="128" y="165" width="2" height="1" fill="#000"/><rect x="131" y="165" width="2" height="1" fill="#000"/><rect x="134" y="165" width="2" height="1" fill="#000"/><rect x="137" y="165" width="2" height="1" fill="#000"/><rect x="140" y="165" width="2" height="1" fill="#000"/><rect x="143" y="165" width="2" height="1" fill="#000"/><rect x="146" y="165" width="2" height="1" fill="#000"/><rect x="149" y="165" width="2" height="1" fill="#000"/><rect x="152" y="165" width="2" height="1" fill="#000"/><rect x="155" y="165" width="2" height="1" fill="#000"/><rect x="158" y="165" width="2" height="1" fill="#000"/><rect x="161" y="165" width="2" height="1" fill="#000"/><rect x="164" y="165" width="2" height="1" fill="#000"/><rect x="167" y="165" width="2" height="1" fill="#000"/><rect x="170" y="165" width="2" height="1" fill="#000"/><rect x="173" y="165" width="2" height="1" fill="#000"/><rect x="176" y="165" width="2" height="1" fill="#000"/><rect x="179" y="165" width="2" height="1" fill="#000"/><rect x="182" y="165" width="2" height="1" fill="#000"/><rect x="185" y="165" width="2" height="1" fill="#000"/><rect x="188" y="165" width="2" height="1" fill="#000"/><rect x="191" y="165" width="2" height="1" fill="#000"/><rect x="194" y="165" width="2" height="1" fill="#000"/><rect x="197" y="165" width="2" height="1" fill="#000"/><rect x="200" y="165" width="2" height="1" fill="#000"/><rect x="203" y="165" width="2" height="1" fill="#000"/><rect x="206" y="165" width="2" height="1" fill="#000"/><rect x="209" y="165" width="2" height="1" fill="#000"/><rect x="212" y="165" width="2" height="1" fill="#000"/><rect x="215" y="165" width="2" height="1" fill="#000"/><rect x="218" y="165" width="2" height="1" fill="#000"/><rect x="221" y="165" width="2" height="1" fill="#000"/><rect x="224" y="165" width="2" height="1" fill="#000"/><rect x="227" y="165" width="2" height="1" fill="#000"/><rect x="230" y="165" width="2" height="1" fill="#000"/><rect x="233" y="165" width="2" height="1" fill="#000"/><rect x="236" y="165" width="2" height="1" fill="#000"/><rect x="239" y="165" width="2" height="1" fill="#000"/><rect x="242" y="165" width="2" height="1" fill="#000"/><rect x="245" y="165" width="2" height="1" fill="#000"/><rect x="248" y="165" width="2" height="1" fill="#000"/><rect x="251" y="165" width="2" height="1" fill="#000"/><rect x="254" y="165" width="2" height="1" fill="#000"/><rect x="257" y="165" width="2" height="1" fill="#000"/><rect x="260" y="165" width="2" height="1" fill="#000"/><rect x="263" y="165" width="2" height="1" fill="#000"/><rect x="266" y="165" width="2" height="1" fill="#000"/><rect x="269" y="165" width="2" height="1" fill="#000"/><rect x="272" y="165" width="2" height="1" fill="#000"/><rect x="275" y="165" width="2" height="1" fill="#000"/><rect x="106" y="158" width="4" height="6" fill="#fff"/><rect x="107" y="152" width="1" height="5" fill="#fff"/><rect x="112" y="158" width="4" height="6" fill="#fff"/><rect x="113" y="152" width="1" height="5" fill="#fff"/><rect x="118" y="158" width="4" height="6" fill="#fff"/><rect x="119" y="152" width="1" height="5" fill="#fff"/><rect x="124" y="158" width="4" height="6" fill="#fff"/><rect x="125" y="152" width="1" height="5" fill="#fff"/><rect x="130" y="158" width="4" height="6" fill="#fff"/><rect x="131" y="152" width="1" height="5" fill="#fff"/><rect x="136" y="158" width="4" height="6" fill="#fff"/><rect x="137" y="152" width="1" height="5" fill="#fff"/><rect x="141" y="158" width="4" height="6" fill="#fff"/><rect x="142" y="152" width="1" height="5" fill="#fff"/><rect x="147" y="158" width="4" height="6" fill="#fff"/><rect x="148" y="152" width="1" height="5" fill="#fff"/><rect x="153" y="158" width="4" height="6" fill="#fff"/><rect x="154" y="152" width="1" height="5" fill="#fff"/><rect x="159" y="158" width="4" height="6" fill="#fff"/><rect x="160" y="152" width="1" height="5" fill="#fff"/><rect x="165" y="158" width="4" height="6" fill="#fff"/><rect x="166" y="152" width="1" height="5" fill="#fff"/><rect x="171" y="158" width="4" height="6" fill="#fff"/><rect x="172" y="152" width="1" height="5" fill="#fff"/><rect x="177" y="158" width="4" height="6" fill="#fff"/><rect x="178" y="152" width="1" height="5" fill="#fff"/><rect x="183" y="158" width="4" height="6" fill="#fff"/><rect x="184" y="152" width="1" height="5" fill="#fff"/><rect x="189" y="158" width="4" height="6" fill="#fff"/><rect x="190" y="152" width="1" height="5" fill="#fff"/><rect x="195" y="158" width="4" height="6" fill="#fff"/><rect x="196" y="152" width="1" height="5" fill="#fff"/><rect x="200" y="158" width="4" height="6" fill="#fff"/><rect x="201" y="152" width="1" height="5" fill="#fff"/><rect x="206" y="158" width="4" height="6" fill="#fff"/><rect x="207" y="152" width="1" height="5" fill="#fff"/><rect x="212" y="158" width="4" height="6" fill="#fff"/><rect x="213" y="152" width="1" height="5" fill="#fff"/><rect x="218" y="158" width="4" height="6" fill="#fff"/><rect x="219" y="152" width="1" height="5" fill="#fff"/><rect x="224" y="158" width="4" height="6" fill="#fff"/><rect x="225" y="152" width="1" height="5" fill="#fff"/><rect x="230" y="158" width="4" height="6" fill="#fff"/><rect x="231" y="152" width="1" height="5" fill="#fff"/><rect x="236" y="158" width="4" height="6" fill="#fff"/><rect x="237" y="152" width="1" height="5" fill="#fff"/><rect x="242" y="158" width="4" height="6" fill="#fff"/><rect x="243" y="152" width="1" height="5" fill="#fff"/><rect x="248" y="158" width="4" height="6" fill="#fff"/><rect x="249" y="152" width="1" height="5" fill="#fff"/><rect x="254" y="158" width="4" height="6" fill="#fff"/><rect x="255" y="152" width="1" height="5" fill="#fff"/><rect x="259" y="158" width="4" height="6" fill="#fff"/><rect x="260" y="152" width="1" height="5" fill="#fff"/><rect x="265" y="158" width="4" height="6" fill="#fff"/><rect x="266" y="152" width="1" height="5" fill="#fff"/><rect x="271" y="158" width="4" height="6" fill="#fff"/><rect x="272" y="152" width="1" height="5" fill="#fff"/><rect x="276" y="158" width="1" height="6" fill="#fff"/><rect x="284" y="150" width="20" height="1" fill="#000"/><rect x="284" y="150" width="1" height="8" fill="#000"/><rect x="282" y="155" width="3" height="1" fill="#000"/><rect x="282" y="155" width="1" height="10" fill="#000"/><rect x="282" y="164" width="10" height="1" fill="#000"/><rect x="284" y="157" width="6" height="1" fill="#000"/><rect x="289" y="154" width="1" height="4" fill="#000"/><rect x="289" y="154" width="4" height="1" fill="#000"/><rect x="291" y="151" width="3" height="15" fill="#000"/><rect x="292" y="165" width="3" height="2" fill="#000"/><rect x="295" y="149" width="1" height="19" fill="#000"/><rect x="295" y="156" width="9" height="1" fill="#000"/><rect x="295" y="163" width="9" height="1" fill="#000"/><rect x="78" y="169" width="226" height="19" fill="#000"/><rect x="79" y="170" width="224" height="17" fill="#fff"/><rect x="78" y="176" width="8" height="1" fill="#000"/><rect x="78" y="183" width="8" height="1" fill="#000"/><rect x="77" y="176" width="1" height="8" fill="#000"/><rect x="78" y="177" width="1" height="6" fill="#fff"/><rect x="85" y="169" width="4" height="17" fill="#000"/><rect x="85" y="169" width="1" height="19" fill="#000"/><rect x="86" y="185" width="3" height="1" fill="#000"/><rect x="85" y="170" width="11" height="1" fill="#000"/><rect x="95" y="170" width="1" height="8" fill="#000"/><rect x="95" y="175" width="4" height="1" fill="#000"/><rect x="98" y="175" width="1" height="10" fill="#000"/><rect x="89" y="184" width="10" height="1" fill="#000"/><rect x="89" y="174" width="3" height="1" fill="#000"/><rect x="91" y="174" width="1" height="4" fill="#000"/><rect x="91" y="177" width="5" height="1" fill="#000"/><rect x="103" y="171" width="174" height="14" fill="#000"/><rect x="277" y="177" width="1" height="8" fill="#000"/><rect x="104" y="185" width="2" height="1" fill="#000"/><rect x="107" y="185" width="2" height="1" fill="#000"/><rect x="110" y="185" width="2" height="1" fill="#000"/><rect x="113" y="185" width="2" height="1" fill="#000"/><rect x="116" y="185" width="2" height="1" fill="#000"/><rect x="119" y="185" width="2" height="1" fill="#000"/><rect x="122" y="185" width="2" height="1" fill="#000"/><rect x="125" y="185" width="2" height="1" fill="#000"/><rect x="128" y="185" width="2" height="1" fill="#000"/><rect x="131" y="185" width="2" height="1" fill="#000"/><rect x="134" y="185" width="2" height="1" fill="#000"/><rect x="137" y="185" width="2" height="1" fill="#000"/><rect x="140" y="185" width="2" height="1" fill="#000"/><rect x="143" y="185" width="2" height="1" fill="#000"/><rect x="146" y="185" width="2" height="1" fill="#000"/><rect x="149" y="185" width="2" height="1" fill="#000"/><rect x="152" y="185" width="2" height="1" fill="#000"/><rect x="155" y="185" width="2" height="1" fill="#000"/><rect x="158" y="185" width="2" height="1" fill="#000"/><rect x="161" y="185" width="2" height="1" fill="#000"/><rect x="164" y="185" width="2" height="1" fill="#000"/><rect x="167" y="185" width="2" height="1" fill="#000"/><rect x="170" y="185" width="2" height="1" fill="#000"/><rect x="173" y="185" width="2" height="1" fill="#000"/><rect x="176" y="185" width="2" height="1" fill="#000"/><rect x="179" y="185" width="2" height="1" fill="#000"/><rect x="182" y="185" width="2" height="1" fill="#000"/><rect x="185" y="185" width="2" height="1" fill="#000"/><rect x="188" y="185" width="2" height="1" fill="#000"/><rect x="191" y="185" width="2" height="1" fill="#000"/><rect x="194" y="185" width="2" height="1" fill="#000"/><rect x="197" y="185" width="2" height="1" fill="#000"/><rect x="200" y="185" width="2" height="1" fill="#000"/><rect x="203" y="185" width="2" height="1" fill="#000"/><rect x="206" y="185" width="2" height="1" fill="#000"/><rect x="209" y="185" width="2" height="1" fill="#000"/><rect x="212" y="185" width="2" height="1" fill="#000"/><rect x="215" y="185" width="2" height="1" fill="#000"/><rect x="218" y="185" width="2" height="1" fill="#000"/><rect x="221" y="185" width="2" height="1" fill="#000"/><rect x="224" y="185" width="2" height="1" fill="#000"/><rect x="227" y="185" width="2" height="1" fill="#000"/><rect x="230" y="185" width="2" height="1" fill="#000"/><rect x="233" y="185" width="2" height="1" fill="#000"/><rect x="236" y="185" width="2" height="1" fill="#000"/><rect x="239" y="185" width="2" height="1" fill="#000"/><rect x="242" y="185" width="2" height="1" fill="#000"/><rect x="245" y="185" width="2" height="1" fill="#000"/><rect x="248" y="185" width="2" height="1" fill="#000"/><rect x="251" y="185" width="2" height="1" fill="#000"/><rect x="254" y="185" width="2" height="1" fill="#000"/><rect x="257" y="185" width="2" height="1" fill="#000"/><rect x="260" y="185" width="2" height="1" fill="#000"/><rect x="263" y="185" width="2" height="1" fill="#000"/><rect x="266" y="185" width="2" height="1" fill="#000"/><rect x="269" y="185" width="2" height="1" fill="#000"/><rect x="272" y="185" width="2" height="1" fill="#000"/><rect x="275" y="185" width="2" height="1" fill="#000"/><rect x="106" y="178" width="4" height="6" fill="#fff"/><rect x="107" y="172" width="1" height="5" fill="#fff"/><rect x="112" y="178" width="4" height="6" fill="#fff"/><rect x="113" y="172" width="1" height="5" fill="#fff"/><rect x="118" y="178" width="4" height="6" fill="#fff"/><rect x="119" y="172" width="1" height="5" fill="#fff"/><rect x="124" y="178" width="4" height="6" fill="#fff"/><rect x="125" y="172" width="1" height="5" fill="#fff"/><rect x="130" y="178" width="4" height="6" fill="#fff"/><rect x="131" y="172" width="1" height="5" fill="#fff"/><rect x="136" y="178" width="4" height="6" fill="#fff"/><rect x="137" y="172" width="1" height="5" fill="#fff"/><rect x="141" y="178" width="4" height="6" fill="#fff"/><rect x="142" y="172" width="1" height="5" fill="#fff"/><rect x="147" y="178" width="4" height="6" fill="#fff"/><rect x="148" y="172" width="1" height="5" fill="#fff"/><rect x="153" y="178" width="4" height="6" fill="#fff"/><rect x="154" y="172" width="1" height="5" fill="#fff"/><rect x="159" y="178" width="4" height="6" fill="#fff"/><rect x="160" y="172" width="1" height="5" fill="#fff"/><rect x="165" y="178" width="4" height="6" fill="#fff"/><rect x="166" y="172" width="1" height="5" fill="#fff"/><rect x="171" y="178" width="4" height="6" fill="#fff"/><rect x="172" y="172" width="1" height="5" fill="#fff"/><rect x="177" y="178" width="4" height="6" fill="#fff"/><rect x="178" y="172" width="1" height="5" fill="#fff"/><rect x="183" y="178" width="4" height="6" fill="#fff"/><rect x="184" y="172" width="1" height="5" fill="#fff"/><rect x="189" y="178" width="4" height="6" fill="#fff"/><rect x="190" y="172" width="1" height="5" fill="#fff"/><rect x="195" y="178" width="4" height="6" fill="#fff"/><rect x="196" y="172" width="1" height="5" fill="#fff"/><rect x="200" y="178" width="4" height="6" fill="#fff"/><rect x="201" y="172" width="1" height="5" fill="#fff"/><rect x="206" y="178" width="4" height="6" fill="#fff"/><rect x="207" y="172" width="1" height="5" fill="#fff"/><rect x="212" y="178" width="4" height="6" fill="#fff"/><rect x="213" y="172" width="1" height="5" fill="#fff"/><rect x="218" y="178" width="4" height="6" fill="#fff"/><rect x="219" y="172" width="1" height="5" fill="#fff"/><rect x="224" y="178" width="4" height="6" fill="#fff"/><rect x="225" y="172" width="1" height="5" fill="#fff"/><rect x="230" y="178" width="4" height="6" fill="#fff"/><rect x="231" y="172" width="1" height="5" fill="#fff"/><rect x="236" y="178" width="4" height="6" fill="#fff"/><rect x="237" y="172" width="1" height="5" fill="#fff"/><rect x="242" y="178" width="4" height="6" fill="#fff"/><rect x="243" y="172" width="1" height="5" fill="#fff"/><rect x="248" y="178" width="4" height="6" fill="#fff"/><rect x="249" y="172" width="1" height="5" fill="#fff"/><rect x="254" y="178" width="4" height="6" fill="#fff"/><rect x="255" y="172" width="1" height="5" fill="#fff"/><rect x="259" y="178" width="4" height="6" fill="#fff"/><rect x="260" y="172" width="1" height="5" fill="#fff"/><rect x="265" y="178" width="4" height="6" fill="#fff"/><rect x="266" y="172" width="1" height="5" fill="#fff"/><rect x="271" y="178" width="4" height="6" fill="#fff"/><rect x="272" y="172" width="1" height="5" fill="#fff"/><rect x="276" y="178" width="1" height="6" fill="#fff"/><rect x="284" y="170" width="20" height="1" fill="#000"/><rect x="284" y="170" width="1" height="8" fill="#000"/><rect x="282" y="175" width="3" height="1" fill="#000"/><rect x="282" y="175" width="1" height="10" fill="#000"/><rect x="282" y="184" width="10" height="1" fill="#000"/><rect x="284" y="177" width="6" height="1" fill="#000"/><rect x="289" y="174" width="1" height="4" fill="#000"/><rect x="289" y="174" width="4" height="1" fill="#000"/><rect x="291" y="171" width="3" height="15" fill="#000"/><rect x="292" y="185" width="3" height="2" fill="#000"/><rect x="295" y="169" width="1" height="19" fill="#000"/><rect x="295" y="176" width="9" height="1" fill="#000"/><rect x="295" y="183" width="9" height="1" fill="#000"/><rect x="161" y="57" width="59" height="21" fill="#000"/><rect x="163" y="61" width="55" height="14" fill="#fff"/><rect x="161" y="139" width="59" height="19" fill="#000"/><rect x="163" y="141" width="55" height="14" fill="#fff"/><text transform="translate(168.00,72) scale(0.937,1)" font-size="13.5" fill="#000" >BANK 1</text><text transform="translate(168.00,152) scale(0.937,1)" font-size="13.5" fill="#000" >BANK 0</text><rect x="4" y="96" width="35" height="19" rx="4" ry="4" fill="#000"/><rect x="7" y="98" width="30" height="14" rx="2.5" ry="2.5" fill="#fff"/><text transform="translate(11.00,109) scale(0.873,1)" font-size="13.5" fill="#000" >J11</text><polygon points="33,111 38,109 46,119 44,122" fill="#000"/><line x1="36.5" y1="111.5" x2="41.5" y2="116.5" stroke="#fff" stroke-width="1"/><rect x="47" y="106" width="7" height="31" fill="#000"/><rect x="48" y="107" width="5" height="1" fill="#fff"/><rect x="52" y="107" width="1" height="29" fill="#fff"/><rect x="48" y="113" width="5" height="1" fill="#fff"/><rect x="48" y="119" width="5" height="1" fill="#fff"/><rect x="48" y="125" width="5" height="1" fill="#fff"/><rect x="48" y="130" width="5" height="1" fill="#fff"/><rect x="49" y="109" width="2" height="3" fill="#fff"/><rect x="45" y="211" width="7" height="26" fill="#000"/><rect x="46" y="212" width="5" height="1" fill="#fff"/><rect x="50" y="212" width="1" height="24" fill="#fff"/><rect x="46" y="218" width="5" height="1" fill="#fff"/><rect x="46" y="224" width="5" height="1" fill="#fff"/><rect x="46" y="230" width="5" height="1" fill="#fff"/><rect x="47" y="214" width="2" height="3" fill="#fff"/><rect x="67" y="216" width="42" height="18" rx="4" ry="4" fill="#000"/><rect x="69" y="218" width="38" height="13" rx="2.5" ry="2.5" fill="#fff"/><text transform="translate(73.00,229) scale(0.943,1)" font-size="13.5" fill="#000" >JP26</text><polygon points="69,220 69,230 60,227 52,225.5 52,224 60,222" fill="#000"/><polygon points="70,222.5 70,227.5 59,225" fill="#fff"/><polygon points="57,251 164,251 164,357 67,357 57,347" fill="#000"/><circle cx="68" cy="346" r="4.3" fill="#fff" shape-rendering="auto"/><rect x="97" y="297" width="28" height="14" fill="#fff"/><text transform="translate(98.00,308) scale(0.842,1)" font-size="13.5" fill="#000" >CPU</text><rect x="319" y="309" width="390" height="20" fill="#000"/><rect x="333" y="316" width="362" height="6" fill="#fff"/><rect x="498" y="309" width="33" height="20" fill="#000"/><rect x="500" y="312" width="28" height="14" fill="#fff"/><text transform="translate(503.00,324) scale(0.965,1)" font-size="13.5" fill="#000" >J12</text><rect x="505" y="338" width="13" height="7" fill="#000"/><rect x="510" y="339" width="1" height="5" fill="#fff"/><rect x="511" y="339" width="1" height="2" fill="#fff"/><rect x="496" y="362" width="34" height="19" rx="4" ry="4" fill="#000"/><rect x="498" y="364" width="30" height="14" rx="2.5" ry="2.5" fill="#fff"/><polygon points="508,364 510,350 511,344 512,344 513.5,350 516,364" fill="#000"/><polygon points="510,365 511.3,353 512,353 514,365" fill="#fff"/><text transform="translate(502.00,376) scale(0.946,1)" font-size="13.5" fill="#000" >JP1</text><rect x="469" y="128" width="50" height="59" fill="#000"/><rect x="470" y="125" width="18" height="3" fill="#000"/><rect x="470" y="187" width="18" height="3" fill="#000"/><rect x="471" y="126" width="2" height="2" fill="#fff"/><rect x="471" y="187" width="2" height="2" fill="#fff"/><rect x="475" y="126" width="2" height="2" fill="#fff"/><rect x="475" y="187" width="2" height="2" fill="#fff"/><rect x="478" y="126" width="2" height="2" fill="#fff"/><rect x="478" y="187" width="2" height="2" fill="#fff"/><rect x="482" y="126" width="2" height="2" fill="#fff"/><rect x="482" y="187" width="2" height="2" fill="#fff"/><rect x="486" y="126" width="2" height="2" fill="#fff"/><rect x="486" y="187" width="2" height="2" fill="#fff"/><rect x="500" y="125" width="18" height="3" fill="#000"/><rect x="500" y="187" width="18" height="3" fill="#000"/><rect x="501" y="126" width="2" height="2" fill="#fff"/><rect x="501" y="187" width="2" height="2" fill="#fff"/><rect x="505" y="126" width="2" height="2" fill="#fff"/><rect x="505" y="187" width="2" height="2" fill="#fff"/><rect x="508" y="126" width="2" height="2" fill="#fff"/><rect x="508" y="187" width="2" height="2" fill="#fff"/><rect x="512" y="126" width="2" height="2" fill="#fff"/><rect x="512" y="187" width="2" height="2" fill="#fff"/><rect x="516" y="126" width="2" height="2" fill="#fff"/><rect x="516" y="187" width="2" height="2" fill="#fff"/><rect x="516" y="138" width="3" height="5" fill="#fff"/><rect x="516" y="138" width="1" height="1" fill="#000"/><rect x="516" y="142" width="1" height="1" fill="#000"/><rect x="516" y="173" width="3" height="5" fill="#fff"/><rect x="516" y="173" width="1" height="1" fill="#000"/><rect x="516" y="177" width="1" height="1" fill="#000"/><polygon points="515,129 518,129 518,131 517,133 516,133 515,131" fill="#fff"/><rect x="468" y="148" width="51" height="19" rx="3" ry="3" fill="#000"/><rect x="471" y="150" width="46" height="15" rx="2" ry="2" fill="#fff"/><text transform="translate(474.00,162) scale(0.923,1)" font-size="13.5" fill="#000" >VRAM</text><rect x="537" y="124" width="14" height="7" fill="#000"/><rect x="538" y="125" width="12" height="5" fill="#fff"/><rect x="539" y="126" width="4" height="4" fill="#000"/><rect x="545" y="126" width="4" height="4" fill="#000"/><rect x="551" y="142" width="42" height="19" rx="4" ry="4" fill="#000"/><rect x="553" y="145" width="38" height="13" rx="2.5" ry="2.5" fill="#fff"/><polygon points="543,135 545,133 556,143 553,147" fill="#000"/><line x1="547.5" y1="138.5" x2="553.5" y2="145.5" stroke="#fff" stroke-width="1"/><text transform="translate(556.00,156) scale(0.975,1)" font-size="13.5" fill="#000" >JP17</text><rect x="613" y="150" width="19" height="7" fill="#000"/><rect x="614" y="155" width="17" height="1" fill="#fff"/><rect x="619" y="151" width="1" height="4" fill="#fff"/><rect x="624" y="151" width="1" height="4" fill="#fff"/><rect x="625" y="151" width="5" height="4" fill="#fff"/><rect x="626" y="152" width="3" height="2" fill="#000"/><rect x="628" y="167" width="42" height="19" rx="2" ry="2" fill="#000"/><rect x="631" y="169" width="37" height="14" rx="0.5" ry="0.5" fill="#fff"/><polygon points="620,160 622,158 633,168 630,172" fill="#000"/><text transform="translate(635.00,181) scale(0.943,1)" font-size="13.5" fill="#000" >JP10</text><rect x="539" y="25" width="78" height="14" fill="#000"/><rect x="540" y="26" width="76" height="12" fill="#fff"/><rect x="541" y="27" width="4" height="4" fill="#000"/><rect x="541" y="33" width="4" height="4" fill="#000"/><rect x="547" y="27" width="4" height="4" fill="#000"/><rect x="547" y="33" width="4" height="4" fill="#000"/><rect x="552" y="27" width="5" height="4" fill="#000"/><rect x="552" y="33" width="5" height="4" fill="#000"/><rect x="558" y="27" width="5" height="4" fill="#000"/><rect x="558" y="33" width="5" height="4" fill="#000"/><rect x="564" y="27" width="4" height="4" fill="#000"/><rect x="564" y="33" width="4" height="4" fill="#000"/><rect x="570" y="27" width="4" height="4" fill="#000"/><rect x="570" y="33" width="4" height="4" fill="#000"/><rect x="576" y="27" width="4" height="4" fill="#000"/><rect x="576" y="33" width="4" height="4" fill="#000"/><rect x="581" y="27" width="5" height="4" fill="#000"/><rect x="581" y="33" width="5" height="4" fill="#000"/><rect x="587" y="27" width="5" height="4" fill="#000"/><rect x="587" y="33" width="5" height="4" fill="#000"/><rect x="593" y="27" width="5" height="4" fill="#000"/><rect x="593" y="33" width="5" height="4" fill="#000"/><rect x="599" y="27" width="4" height="4" fill="#000"/><rect x="599" y="33" width="4" height="4" fill="#000"/><rect x="605" y="27" width="4" height="4" fill="#000"/><rect x="605" y="33" width="4" height="4" fill="#000"/><rect x="610" y="27" width="5" height="4" fill="#000"/><rect x="610" y="33" width="5" height="4" fill="#000"/><rect x="583" y="47" width="34" height="19" rx="4" ry="4" fill="#000"/><rect x="585" y="49" width="30" height="14" rx="2.5" ry="2.5" fill="#fff"/><polygon points="577,42 579,40 589,48 586,52" fill="#000"/><line x1="580.5" y1="43.5" x2="586.5" y2="49.5" stroke="#fff" stroke-width="1"/><text transform="translate(589.00,60) scale(0.919,1)" font-size="13.5" fill="#000" >J15</text><text transform="translate(669.00,35) scale(0.888,1)" font-size="12.5" fill="#000" style="stroke:none">MH1897</text><rect x="615" y="349" width="13" height="7" fill="#000"/><rect x="621" y="350" width="1" height="5" fill="#fff"/><rect x="626" y="350" width="1" height="5" fill="#fff"/><rect x="628" y="367" width="42" height="19" rx="3" ry="3" fill="#000"/><rect x="631" y="369" width="37" height="14" rx="1.5" ry="1.5" fill="#fff"/><polygon points="621,360 622.5,358.5 632,367 630,371" fill="#000"/><text transform="translate(634.00,381) scale(0.943,1)" font-size="13.5" fill="#000" >JP24</text><rect x="638" y="391" width="34" height="19" rx="4" ry="4" fill="#000"/><rect x="640" y="393" width="30" height="14" rx="2.5" ry="2.5" fill="#fff"/><polygon points="650,408 659,408 655,425 654,425" fill="#000"/><polygon points="653,408 656,408 654.5,415" fill="#fff"/><text transform="translate(643.00,404) scale(0.929,1)" font-size="13.5" fill="#000" >C17</text><rect x="638" y="430" width="33" height="11" rx="3" ry="3" fill="#000"/><rect x="639" y="431" width="31" height="9" rx="2.5" ry="2.5" fill="#fff"/><rect x="671" y="433" width="13" height="1" fill="#000"/><rect x="671" y="436" width="13" height="2" fill="#000"/><circle cx="726.5" cy="489.5" r="23" fill="#fff" stroke="#000" stroke-width="1.25" shape-rendering="auto"/><rect x="718" y="451" width="17" height="17" fill="#000"/><rect x="724" y="452" width="4" height="16" fill="#fff"/><rect x="724" y="468" width="4" height="36" fill="#fff"/><rect x="723" y="468" width="1" height="35" fill="#000"/><rect x="728" y="468" width="1" height="35" fill="#000"/><rect x="724" y="493" width="4" height="2" fill="#000"/><rect x="724" y="503" width="4" height="1" fill="#000"/><rect x="725" y="504" width="2" height="1" fill="#000"/><rect x="725" y="503" width="2" height="1" fill="#fff"/><rect x="570" y="500" width="113" height="24" fill="#000"/><rect x="571" y="501" width="111" height="22" fill="#fff"/><rect x="570" y="508" width="113" height="1" fill="#000"/><rect x="570" y="514" width="113" height="1" fill="#000"/><rect x="572" y="504" width="7" height="2" fill="#000"/><rect x="574" y="503" width="4" height="1" fill="#000"/><rect x="575" y="506" width="2" height="1" fill="#000"/><rect x="572" y="510" width="7" height="3" fill="#000"/><rect x="581" y="504" width="7" height="2" fill="#000"/><rect x="583" y="503" width="4" height="1" fill="#000"/><rect x="584" y="506" width="2" height="1" fill="#000"/><rect x="581" y="510" width="7" height="3" fill="#000"/><rect x="590" y="504" width="7" height="2" fill="#000"/><rect x="592" y="503" width="4" height="1" fill="#000"/><rect x="593" y="506" width="2" height="1" fill="#000"/><rect x="590" y="510" width="7" height="3" fill="#000"/><rect x="599" y="504" width="7" height="2" fill="#000"/><rect x="601" y="503" width="4" height="1" fill="#000"/><rect x="602" y="506" width="2" height="1" fill="#000"/><rect x="599" y="510" width="7" height="3" fill="#000"/><rect x="609" y="504" width="7" height="2" fill="#000"/><rect x="611" y="503" width="4" height="1" fill="#000"/><rect x="612" y="506" width="2" height="1" fill="#000"/><rect x="609" y="510" width="7" height="3" fill="#000"/><rect x="618" y="504" width="7" height="2" fill="#000"/><rect x="620" y="503" width="4" height="1" fill="#000"/><rect x="621" y="506" width="2" height="1" fill="#000"/><rect x="618" y="510" width="7" height="3" fill="#000"/><rect x="627" y="504" width="7" height="2" fill="#000"/><rect x="629" y="503" width="4" height="1" fill="#000"/><rect x="630" y="506" width="2" height="1" fill="#000"/><rect x="627" y="510" width="7" height="3" fill="#000"/><rect x="636" y="504" width="7" height="2" fill="#000"/><rect x="638" y="503" width="4" height="1" fill="#000"/><rect x="639" y="506" width="2" height="1" fill="#000"/><rect x="636" y="510" width="7" height="3" fill="#000"/><rect x="646" y="504" width="7" height="2" fill="#000"/><rect x="648" y="503" width="4" height="1" fill="#000"/><rect x="649" y="506" width="2" height="1" fill="#000"/><rect x="646" y="510" width="7" height="3" fill="#000"/><rect x="655" y="504" width="7" height="2" fill="#000"/><rect x="657" y="503" width="4" height="1" fill="#000"/><rect x="658" y="506" width="2" height="1" fill="#000"/><rect x="655" y="510" width="7" height="3" fill="#000"/><rect x="664" y="504" width="7" height="2" fill="#000"/><rect x="666" y="503" width="4" height="1" fill="#000"/><rect x="667" y="506" width="2" height="1" fill="#000"/><rect x="664" y="510" width="7" height="3" fill="#000"/><rect x="673" y="504" width="7" height="2" fill="#000"/><rect x="675" y="503" width="4" height="1" fill="#000"/><rect x="676" y="506" width="2" height="1" fill="#000"/><rect x="673" y="510" width="7" height="3" fill="#000"/><rect x="576" y="514" width="7" height="7" fill="#000"/><rect x="577" y="515" width="5" height="5" fill="#fff"/><rect x="586" y="514" width="7" height="7" fill="#000"/><rect x="587" y="515" width="5" height="5" fill="#fff"/><rect x="595" y="514" width="8" height="7" fill="#000"/><rect x="596" y="515" width="6" height="5" fill="#fff"/><rect x="604" y="514" width="8" height="7" fill="#000"/><rect x="605" y="515" width="6" height="5" fill="#fff"/><rect x="614" y="514" width="7" height="7" fill="#000"/><rect x="615" y="515" width="5" height="5" fill="#fff"/><rect x="623" y="514" width="7" height="7" fill="#000"/><rect x="624" y="515" width="5" height="5" fill="#fff"/><rect x="632" y="514" width="7" height="7" fill="#000"/><rect x="633" y="515" width="5" height="5" fill="#fff"/><rect x="641" y="514" width="8" height="7" fill="#000"/><rect x="642" y="515" width="6" height="5" fill="#fff"/><rect x="650" y="514" width="8" height="7" fill="#000"/><rect x="651" y="515" width="6" height="5" fill="#fff"/><rect x="659" y="514" width="8" height="7" fill="#000"/><rect x="660" y="515" width="6" height="5" fill="#fff"/><rect x="670" y="514" width="7" height="7" fill="#000"/><rect x="671" y="515" width="5" height="5" fill="#fff"/><rect x="570" y="515" width="4" height="2" fill="#000"/><rect x="573" y="515" width="1" height="5" fill="#000"/><rect x="571" y="517" width="2" height="2" fill="#fff"/><rect x="570" y="519" width="4" height="1" fill="#000"/><rect x="679" y="515" width="4" height="6" fill="#000"/><rect x="680" y="516" width="2" height="4" fill="#fff"/><rect x="378" y="496" width="26" height="18" rx="4" ry="4" fill="#000"/><rect x="380" y="498" width="22" height="13" rx="2.5" ry="2.5" fill="#fff"/><polygon points="402,500 410,503 419,504 419,505 410,507 402,510" fill="#000"/><polygon points="401,503 409,505 401,507" fill="#fff"/><text transform="translate(384.00,509) scale(0.912,1)" font-size="13.5" fill="#000" >J8</text><rect x="420" y="499" width="119" height="12" fill="#000"/><rect x="421" y="500" width="1" height="10" fill="#fff"/><rect x="427" y="500" width="1" height="10" fill="#fff"/><rect x="433" y="500" width="1" height="10" fill="#fff"/><rect x="439" y="500" width="1" height="10" fill="#fff"/><rect x="445" y="500" width="1" height="10" fill="#fff"/><rect x="451" y="500" width="1" height="10" fill="#fff"/><rect x="457" y="500" width="1" height="10" fill="#fff"/><rect x="463" y="500" width="1" height="10" fill="#fff"/><rect x="469" y="500" width="1" height="10" fill="#fff"/><rect x="475" y="500" width="1" height="10" fill="#fff"/><rect x="481" y="500" width="1" height="10" fill="#fff"/><rect x="487" y="500" width="1" height="10" fill="#fff"/><rect x="493" y="500" width="1" height="10" fill="#fff"/><rect x="499" y="500" width="1" height="10" fill="#fff"/><rect x="505" y="500" width="1" height="10" fill="#fff"/><rect x="511" y="500" width="1" height="10" fill="#fff"/><rect x="517" y="500" width="1" height="10" fill="#fff"/><rect x="523" y="500" width="1" height="10" fill="#fff"/><rect x="529" y="500" width="1" height="10" fill="#fff"/><rect x="422" y="505" width="116" height="1" fill="#fff"/><rect x="534" y="501" width="3" height="3" fill="#fff"/><rect x="397" y="528" width="102" height="13" fill="#000"/><rect x="398" y="529" width="100" height="11" fill="#fff"/><rect x="399" y="530" width="5" height="4" fill="#000"/><rect x="399" y="535" width="5" height="4" fill="#000"/><rect x="405" y="530" width="5" height="4" fill="#000"/><rect x="405" y="535" width="5" height="4" fill="#000"/><rect x="411" y="530" width="5" height="4" fill="#000"/><rect x="411" y="535" width="5" height="4" fill="#000"/><rect x="417" y="530" width="5" height="4" fill="#000"/><rect x="417" y="535" width="5" height="4" fill="#000"/><rect x="423" y="530" width="5" height="4" fill="#000"/><rect x="423" y="535" width="5" height="4" fill="#000"/><rect x="429" y="530" width="4" height="4" fill="#000"/><rect x="429" y="535" width="4" height="4" fill="#000"/><rect x="434" y="530" width="5" height="4" fill="#000"/><rect x="434" y="535" width="5" height="4" fill="#000"/><rect x="440" y="530" width="5" height="4" fill="#000"/><rect x="440" y="535" width="5" height="4" fill="#000"/><rect x="446" y="530" width="5" height="4" fill="#000"/><rect x="446" y="535" width="5" height="4" fill="#000"/><rect x="452" y="530" width="5" height="4" fill="#000"/><rect x="452" y="535" width="5" height="4" fill="#000"/><rect x="458" y="530" width="5" height="4" fill="#000"/><rect x="458" y="535" width="5" height="4" fill="#000"/><rect x="464" y="530" width="5" height="4" fill="#000"/><rect x="464" y="535" width="5" height="4" fill="#000"/><rect x="470" y="530" width="5" height="4" fill="#000"/><rect x="470" y="535" width="5" height="4" fill="#000"/><rect x="476" y="530" width="4" height="4" fill="#000"/><rect x="476" y="535" width="4" height="4" fill="#000"/><rect x="481" y="530" width="5" height="4" fill="#000"/><rect x="481" y="535" width="5" height="4" fill="#000"/><rect x="487" y="530" width="5" height="4" fill="#000"/><rect x="487" y="535" width="5" height="4" fill="#000"/><rect x="493" y="530" width="4" height="4" fill="#000"/><rect x="493" y="535" width="4" height="4" fill="#000"/><rect x="493" y="531" width="3" height="2" fill="#fff"/><rect x="515" y="526" width="26" height="19" rx="4" ry="4" fill="#000"/><rect x="517" y="528" width="22" height="14" rx="2.5" ry="2.5" fill="#fff"/><polygon points="516,530 508,533 500,534 500,536 508,537 516,540" fill="#000"/><polygon points="517,533 509,535 517,537" fill="#fff"/><text transform="translate(521.00,540) scale(0.912,1)" font-size="13.5" fill="#000" >J6</text><rect x="758" y="482" width="34" height="19" rx="4" ry="4" fill="#000"/><rect x="760" y="484" width="30" height="14" rx="2.5" ry="2.5" fill="#fff"/><polygon points="770,499 779,499 775,517 774,517" fill="#000"/><polygon points="773,499 776,499 774.5,506" fill="#fff"/><text transform="translate(763.00,495) scale(0.946,1)" font-size="13.5" fill="#000" >JP8</text><rect x="765" y="517" width="19" height="7" fill="#000"/><rect x="771" y="518" width="1" height="5" fill="#fff"/><rect x="777" y="518" width="1" height="5" fill="#fff"/><rect x="778" y="518" width="5" height="5" fill="#fff"/><rect x="779" y="519" width="3" height="3" fill="#000"/><rect x="780" y="520" width="1" height="1" fill="#fff"/><rect x="765" y="529" width="26" height="7" fill="#000"/><rect x="766" y="530" width="1" height="5" fill="#fff"/><rect x="771" y="530" width="1" height="5" fill="#fff"/><rect x="772" y="530" width="1" height="5" fill="#fff"/><rect x="777" y="530" width="1" height="5" fill="#fff"/><rect x="778" y="530" width="1" height="5" fill="#fff"/><rect x="783" y="530" width="1" height="5" fill="#fff"/><rect x="784" y="530" width="6" height="5" fill="#fff"/><rect x="785" y="531" width="4" height="3" fill="#000"/><rect x="786" y="532" width="2" height="1" fill="#fff"/><rect x="723" y="522" width="26" height="19" rx="4" ry="4" fill="#000"/><rect x="725" y="524" width="22" height="14" rx="2.5" ry="2.5" fill="#fff"/><polygon points="747,526 755,529 764,531 764,532 755,533 747,536" fill="#000"/><polygon points="746,529 754,531 746,533" fill="#fff"/><text transform="translate(729.00,536) scale(0.912,1)" font-size="13.5" fill="#000" >J2</text><rect x="798" y="40" width="18" height="6" fill="#000"/><rect x="799" y="41" width="16" height="4" fill="#fff"/><rect x="798" y="94" width="18" height="6" fill="#000"/><rect x="799" y="95" width="16" height="4" fill="#fff"/><rect x="800" y="37" width="6" height="67" fill="#000"/><rect x="772" y="48" width="34" height="44" fill="#000"/><path d="M806 48.5 H820.5 L822.5 50.5 V88.5 L820.5 90.5 H806" fill="none" stroke="#000" stroke-width="1"/><rect x="780" y="61" width="33" height="18" rx="3" ry="3" fill="#000"/><rect x="772" y="61" width="34" height="18" fill="#000"/><rect x="782" y="63" width="28" height="14" fill="#fff"/><text x="785.00 791.86 799.50" y="75" font-size="13.5" fill="#000" >J16</text><rect x="794" y="113" width="19" height="7" fill="#000"/><rect x="795" y="114" width="17" height="5" fill="#fff"/><rect x="794" y="216" width="19" height="6" fill="#000"/><rect x="795" y="217" width="17" height="4" fill="#fff"/><rect x="799" y="112" width="6" height="112" fill="#000"/><rect x="775" y="122" width="28" height="92" fill="#000"/><rect x="803" y="113" width="1" height="110" fill="#fff"/><path d="M805 122.5 H816.5 L818.5 124.5 V210.5 L816.5 212.5 H805" fill="none" stroke="#000" stroke-width="1"/><rect x="782" y="162" width="25" height="18" rx="3" ry="3" fill="#000"/><rect x="784" y="164" width="21" height="14" rx="2" ry="2" fill="#fff"/><text transform="translate(788.00,175) scale(0.912,1)" font-size="13.5" fill="#000" >J7</text><rect x="796" y="231" width="19" height="6" fill="#000"/><rect x="797" y="232" width="17" height="4" fill="#fff"/><rect x="796" y="285" width="19" height="6" fill="#000"/><rect x="797" y="286" width="17" height="4" fill="#fff"/><rect x="798" y="227" width="7" height="68" fill="#000"/><rect x="770" y="238" width="35" height="45" fill="#000"/><path d="M805 239.5 H820.5 V280.5 H805" fill="none" stroke="#000" stroke-width="1"/><rect x="777" y="254" width="20" height="14" fill="#fff"/><text transform="translate(780.00,266) scale(0.912,1)" font-size="13.5" fill="#000" >J5</text><rect x="796" y="307" width="19" height="6" fill="#000"/><rect x="797" y="308" width="17" height="4" fill="#fff"/><rect x="796" y="361" width="19" height="6" fill="#000"/><rect x="797" y="362" width="17" height="4" fill="#fff"/><rect x="798" y="304" width="7" height="67" fill="#000"/><rect x="770" y="314" width="35" height="45" fill="#000"/><path d="M805 315.5 H819.5 L821.5 317.5 V355.5 L819.5 357.5 H805" fill="none" stroke="#000" stroke-width="1"/><rect x="778" y="330" width="21" height="14" rx="2" ry="2" fill="#fff"/><text transform="translate(781.00,341) scale(0.912,1)" font-size="13.5" fill="#000" >J4</text><rect x="763" y="382" width="40" height="40" fill="#000"/><rect x="764" y="383" width="38" height="38" fill="#fff"/><rect x="796" y="382" width="7" height="40" fill="#000"/><rect x="762" y="393" width="42" height="19" rx="4" ry="4" fill="#000"/><rect x="765" y="395" width="37" height="14" rx="1.5" ry="1.5" fill="#fff"/><text transform="translate(769.00,407) scale(0.943,1)" font-size="13.5" fill="#000" >JP22</text><rect x="771" y="437" width="25" height="37" fill="#000"/><rect x="796" y="432" width="2" height="46" fill="#000"/><rect x="798" y="430" width="5" height="50" fill="#000"/><rect x="769" y="443" width="2" height="24" fill="#000"/><rect x="765" y="445" width="5" height="9" fill="#000"/><rect x="766" y="446" width="3" height="7" fill="#fff"/><rect x="765" y="456" width="5" height="9" fill="#000"/><rect x="766" y="457" width="3" height="7" fill="#fff"/><rect x="769" y="445" width="2" height="20" fill="#000"/><rect x="770" y="453" width="2" height="4" fill="#fff"/>
</svg>
</body></html>
